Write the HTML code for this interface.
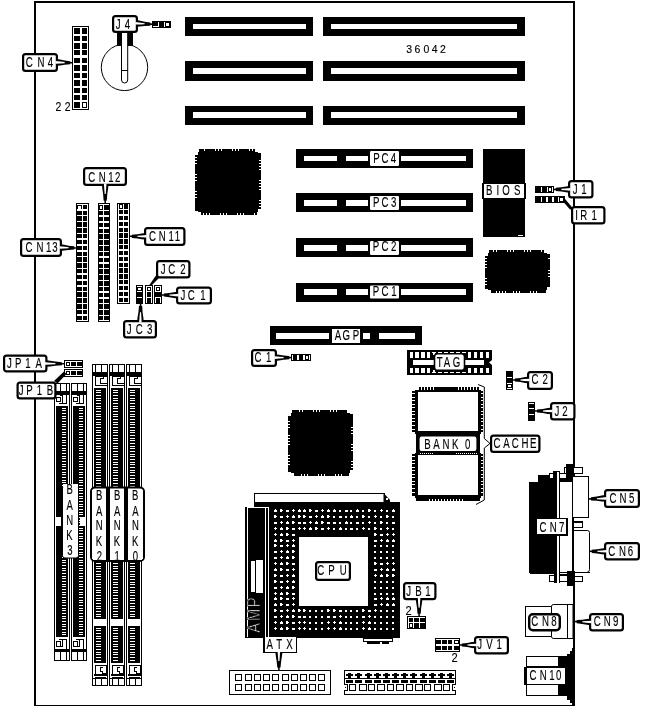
<!DOCTYPE html>
<html lang="en"><head><meta charset="utf-8"><title>36042 motherboard layout</title>
<style>
html,body{margin:0;padding:0;background:#fff;}
body{width:646px;height:707px;overflow:hidden;}
svg{display:block;font-family:"Liberation Sans",sans-serif;filter:grayscale(1);}
</style></head><body>
<svg width="646" height="707" viewBox="0 0 646 707" shape-rendering="crispEdges">
<rect x="0" y="0" width="646" height="707" fill="#fff"/>
<rect x="34" y="1" width="541" height="2" fill="#000"/>
<rect x="34" y="1" width="2" height="705" fill="#000"/>
<rect x="573" y="1" width="2" height="705" fill="#000"/>
<rect x="34" y="705" width="541" height="1" fill="#000"/>
<rect x="185" y="17" width="128" height="19" fill="#000"/>
<rect x="193" y="24" width="113" height="5" fill="#fff"/>
<rect x="323" y="17" width="202" height="19" fill="#000"/>
<rect x="331" y="24" width="186" height="5" fill="#fff"/>
<rect x="185" y="61" width="128" height="20" fill="#000"/>
<rect x="193" y="68" width="113" height="6" fill="#fff"/>
<rect x="323" y="61" width="202" height="20" fill="#000"/>
<rect x="331" y="68" width="186" height="6" fill="#fff"/>
<rect x="185" y="106" width="128" height="19" fill="#000"/>
<rect x="193" y="112" width="113" height="6" fill="#fff"/>
<rect x="323" y="106" width="202" height="19" fill="#000"/>
<rect x="331" y="112" width="186" height="6" fill="#fff"/>
<text transform="translate(406.13,53) scale(0.9,1)" x="0.00 9.37 19.30 28.56 37.52" y="0" font-size="11.6" fill="#000" stroke="#000" stroke-width="0.15" font-weight="normal">36042</text>
<rect x="72" y="26" width="17" height="84" fill="#000"/>
<rect x="73" y="27" width="15" height="82" fill="#fff"/>
<rect x="74" y="28" width="6" height="6" fill="#000"/>
<rect x="82" y="28" width="5" height="6" fill="#000"/>
<rect x="74" y="36" width="6" height="5" fill="#000"/>
<rect x="82" y="36" width="5" height="5" fill="#000"/>
<rect x="74" y="43" width="6" height="6" fill="#000"/>
<rect x="82" y="43" width="5" height="6" fill="#000"/>
<rect x="74" y="50" width="6" height="5" fill="#000"/>
<rect x="82" y="50" width="5" height="5" fill="#000"/>
<rect x="74" y="58" width="6" height="5" fill="#000"/>
<rect x="82" y="58" width="5" height="5" fill="#000"/>
<rect x="74" y="65" width="6" height="6" fill="#000"/>
<rect x="82" y="65" width="5" height="6" fill="#000"/>
<rect x="74" y="73" width="6" height="5" fill="#000"/>
<rect x="82" y="73" width="5" height="5" fill="#000"/>
<rect x="74" y="80" width="6" height="6" fill="#000"/>
<rect x="82" y="80" width="5" height="6" fill="#000"/>
<rect x="74" y="88" width="6" height="5" fill="#000"/>
<rect x="82" y="88" width="5" height="5" fill="#000"/>
<rect x="74" y="95" width="6" height="5" fill="#000"/>
<rect x="82" y="95" width="5" height="5" fill="#000"/>
<rect x="74" y="102" width="6" height="6" fill="#000"/>
<rect x="82" y="102" width="5" height="6" fill="#000"/>
<rect x="83" y="103" width="3" height="4" fill="#fff"/>
<rect x="23.1" y="54.1" width="33.8" height="16.8" rx="2.4" ry="2.4" fill="#fff" stroke="#000" stroke-width="2.2" shape-rendering="geometricPrecision"/>
<polygon points="56.91,65.70 59.98,65.38 64.60,64.70 70.12,64.34 70.29,63.55 72.28,63.55 72.32,62.05 70.33,61.95 70.20,61.14 64.70,60.50 60.14,59.58 57.09,59.10" fill="#000" shape-rendering="geometricPrecision"/>
<polygon points="55.37,63.66 60.80,63.40 64.64,63.15 64.66,62.05 60.85,61.60 55.43,61.06" fill="#fff" shape-rendering="geometricPrecision"/>
<text transform="translate(25.66,66.6) scale(0.67,1)" x="0.00 17.85 33.12" y="0" font-size="14.4" fill="#000" stroke="#000" stroke-width="0.15" font-weight="normal">CN4</text>
<text transform="translate(55.59,110.5) scale(0.85,1)" x="0.00 10.82" y="0" font-size="12.3" fill="#000" stroke="#000" stroke-width="0.15" font-weight="normal">22</text>
<circle cx="124.5" cy="67.4" r="23.2" fill="#fff" stroke="#000" stroke-width="1" shape-rendering="geometricPrecision"/>
<rect x="117" y="31" width="5" height="15" fill="#000"/>
<rect x="127" y="31" width="6" height="15" fill="#000"/>
<path d="M121.5,31 V80 Q121.5,83 124.6,83 Q127.7,83 127.7,80 V31 Z" fill="#fff" stroke="#000" stroke-width="1" shape-rendering="geometricPrecision"/>
<line x1="121.5" y1="70.5" x2="127.7" y2="70.5" stroke="#000" stroke-width="1" />
<rect x="113.1" y="16.1" width="23.8" height="15.8" rx="2.4" ry="2.4" fill="#fff" stroke="#000" stroke-width="2.2" shape-rendering="geometricPrecision"/>
<polygon points="136.83,26.70 139.91,26.46 144.54,25.90 150.07,25.69 150.27,24.89 152.26,24.95 152.34,23.45 150.35,23.30 150.24,22.49 144.76,21.70 140.21,20.66 137.17,20.10" fill="#000" shape-rendering="geometricPrecision"/>
<polygon points="135.33,24.61 140.78,24.50 144.62,24.35 144.68,23.25 140.87,22.70 135.47,22.02" fill="#fff" shape-rendering="geometricPrecision"/>
<text transform="translate(115.87,28.6) scale(0.67,1)" x="0.00 13.40" y="0" font-size="14.4" fill="#000" stroke="#000" stroke-width="0.15" font-weight="normal">J4</text>
<rect x="152" y="21" width="19" height="7" fill="#000"/>
<rect x="158" y="22" width="1" height="5" fill="#fff"/>
<rect x="153" y="26" width="6" height="1" fill="#fff"/>
<rect x="164" y="22" width="1" height="5" fill="#fff"/>
<rect x="166" y="23" width="3" height="3" fill="#fff"/>
<rect x="76" y="203" width="13" height="119" fill="#000"/>
<rect x="77" y="204" width="11" height="117" fill="#fff"/>
<rect x="77" y="205" width="5" height="115" fill="#000"/>
<rect x="83" y="205" width="4" height="115" fill="#000"/>
<rect x="77" y="209" width="11" height="2" fill="#fff"/>
<rect x="77" y="215" width="11" height="1" fill="#fff"/>
<rect x="77" y="221" width="11" height="1" fill="#fff"/>
<rect x="77" y="227" width="11" height="1" fill="#fff"/>
<rect x="77" y="233" width="11" height="1" fill="#fff"/>
<rect x="77" y="238" width="11" height="2" fill="#fff"/>
<rect x="77" y="244" width="11" height="2" fill="#fff"/>
<rect x="77" y="250" width="11" height="2" fill="#fff"/>
<rect x="77" y="256" width="11" height="1" fill="#fff"/>
<rect x="77" y="262" width="11" height="1" fill="#fff"/>
<rect x="77" y="268" width="11" height="1" fill="#fff"/>
<rect x="77" y="273" width="11" height="2" fill="#fff"/>
<rect x="77" y="279" width="11" height="2" fill="#fff"/>
<rect x="77" y="285" width="11" height="2" fill="#fff"/>
<rect x="77" y="291" width="11" height="1" fill="#fff"/>
<rect x="77" y="297" width="11" height="1" fill="#fff"/>
<rect x="77" y="303" width="11" height="1" fill="#fff"/>
<rect x="77" y="309" width="11" height="1" fill="#fff"/>
<rect x="77" y="314" width="11" height="2" fill="#fff"/>
<rect x="78" y="206" width="3" height="3" fill="#fff"/>
<rect x="98" y="203" width="12" height="119" fill="#000"/>
<rect x="99" y="204" width="10" height="117" fill="#fff"/>
<rect x="99" y="205" width="4" height="115" fill="#000"/>
<rect x="104" y="205" width="5" height="115" fill="#000"/>
<rect x="99" y="210" width="10" height="1" fill="#fff"/>
<rect x="99" y="215" width="10" height="2" fill="#fff"/>
<rect x="99" y="221" width="10" height="2" fill="#fff"/>
<rect x="99" y="227" width="10" height="2" fill="#fff"/>
<rect x="99" y="233" width="10" height="1" fill="#fff"/>
<rect x="99" y="239" width="10" height="1" fill="#fff"/>
<rect x="99" y="245" width="10" height="1" fill="#fff"/>
<rect x="99" y="251" width="10" height="1" fill="#fff"/>
<rect x="99" y="256" width="10" height="2" fill="#fff"/>
<rect x="99" y="262" width="10" height="2" fill="#fff"/>
<rect x="99" y="268" width="10" height="1" fill="#fff"/>
<rect x="99" y="274" width="10" height="1" fill="#fff"/>
<rect x="99" y="280" width="10" height="1" fill="#fff"/>
<rect x="99" y="286" width="10" height="1" fill="#fff"/>
<rect x="99" y="291" width="10" height="2" fill="#fff"/>
<rect x="99" y="297" width="10" height="2" fill="#fff"/>
<rect x="99" y="303" width="10" height="1" fill="#fff"/>
<rect x="99" y="309" width="10" height="1" fill="#fff"/>
<rect x="99" y="315" width="10" height="1" fill="#fff"/>
<rect x="100" y="206" width="2" height="3" fill="#fff"/>
<rect x="117" y="203" width="13" height="101" fill="#000"/>
<rect x="118" y="204" width="11" height="99" fill="#fff"/>
<rect x="119" y="204" width="4" height="98" fill="#000"/>
<rect x="124" y="204" width="4" height="98" fill="#000"/>
<rect x="118" y="209" width="11" height="1" fill="#fff"/>
<rect x="118" y="214" width="11" height="2" fill="#fff"/>
<rect x="118" y="220" width="11" height="2" fill="#fff"/>
<rect x="118" y="226" width="11" height="2" fill="#fff"/>
<rect x="118" y="232" width="11" height="1" fill="#fff"/>
<rect x="118" y="238" width="11" height="1" fill="#fff"/>
<rect x="118" y="244" width="11" height="1" fill="#fff"/>
<rect x="118" y="249" width="11" height="2" fill="#fff"/>
<rect x="118" y="255" width="11" height="2" fill="#fff"/>
<rect x="118" y="261" width="11" height="2" fill="#fff"/>
<rect x="118" y="267" width="11" height="1" fill="#fff"/>
<rect x="118" y="273" width="11" height="1" fill="#fff"/>
<rect x="118" y="279" width="11" height="1" fill="#fff"/>
<rect x="118" y="284" width="11" height="2" fill="#fff"/>
<rect x="118" y="290" width="11" height="2" fill="#fff"/>
<rect x="118" y="296" width="11" height="2" fill="#fff"/>
<rect x="120" y="205" width="2" height="3" fill="#fff"/>
<rect x="84.1" y="168.1" width="41.8" height="16.8" rx="2.4" ry="2.4" fill="#fff" stroke="#000" stroke-width="2.2" shape-rendering="geometricPrecision"/>
<polygon points="101.90,185.00 102.30,188.60 103.10,194.00 103.60,200.48 104.40,200.66 104.45,203.00 105.95,203.00 106.00,200.66 106.80,200.48 107.30,194.00 108.10,188.60 108.50,185.00" fill="#000" shape-rendering="geometricPrecision"/>
<polygon points="103.90,183.40 104.30,189.50 104.65,194.00 105.75,194.00 106.10,189.50 106.50,183.40" fill="#fff" shape-rendering="geometricPrecision"/>
<text transform="translate(88.36,182) scale(0.67,1)" x="0.00 15.46 29.60 39.79" y="0" font-size="14.4" fill="#000" stroke="#000" stroke-width="0.15" font-weight="normal">CN12</text>
<rect x="21.1" y="239.1" width="39.8" height="16.8" rx="2.4" ry="2.4" fill="#fff" stroke="#000" stroke-width="2.2" shape-rendering="geometricPrecision"/>
<polygon points="60.91,250.90 63.98,250.58 68.60,249.90 74.12,249.54 74.29,248.75 76.28,248.75 76.32,247.25 74.33,247.15 74.20,246.34 68.70,245.70 64.14,244.78 61.09,244.30" fill="#000" shape-rendering="geometricPrecision"/>
<polygon points="59.37,248.86 64.80,248.60 68.64,248.35 68.66,247.25 64.85,246.80 59.43,246.26" fill="#fff" shape-rendering="geometricPrecision"/>
<text transform="translate(25.46,252) scale(0.67,1)" x="0.00 16.51 30.64 39.84" y="0" font-size="14.4" fill="#000" stroke="#000" stroke-width="0.15" font-weight="normal">CN13</text>
<rect x="145.1" y="228.1" width="39.3" height="16.8" rx="2.4" ry="2.4" fill="#fff" stroke="#000" stroke-width="2.2" shape-rendering="geometricPrecision"/>
<polygon points="145.00,233.00 141.94,233.40 137.35,234.20 131.84,234.70 131.69,235.50 129.70,235.55 129.70,237.05 131.69,237.10 131.84,237.90 137.35,238.40 141.94,239.20 145.00,239.60" fill="#000" shape-rendering="geometricPrecision"/>
<polygon points="146.60,235.00 141.18,235.40 137.35,235.75 137.35,236.85 141.18,237.20 146.60,237.60" fill="#fff" shape-rendering="geometricPrecision"/>
<text transform="translate(149.06,241.2) scale(0.67,1)" x="0.00 14.42 29.00 38.25" y="0" font-size="14.4" fill="#000" stroke="#000" stroke-width="0.15" font-weight="normal">CN11</text>
<rect x="136" y="285" width="7" height="19" fill="#000"/>
<rect x="137" y="286" width="5" height="1" fill="#fff"/>
<rect x="138" y="288" width="3" height="2" fill="#fff"/>
<rect x="137" y="291" width="5" height="1" fill="#fff"/>
<rect x="137" y="297" width="5" height="1" fill="#fff"/>
<rect x="145" y="285" width="8" height="19" fill="#000"/>
<rect x="146" y="286" width="6" height="17" fill="#fff"/>
<rect x="147" y="287" width="4" height="4" fill="#000"/>
<rect x="148" y="288" width="2" height="2" fill="#fff"/>
<rect x="147" y="292" width="4" height="5" fill="#000"/>
<rect x="147" y="298" width="4" height="5" fill="#000"/>
<rect x="154" y="285" width="8" height="19" fill="#000"/>
<rect x="155" y="286" width="6" height="17" fill="#fff"/>
<rect x="156" y="287" width="4" height="4" fill="#000"/>
<rect x="157" y="288" width="2" height="2" fill="#fff"/>
<rect x="155" y="292" width="6" height="5" fill="#000"/>
<rect x="156" y="298" width="4" height="5" fill="#000"/>
<polygon points="149,285.5 151.5,285.5 161,276 157,274" fill="#000" shape-rendering="geometricPrecision"/>
<rect x="157.1" y="261.1" width="32.3" height="16.3" rx="2.4" ry="2.4" fill="#fff" stroke="#000" stroke-width="2.2" shape-rendering="geometricPrecision"/>
<text transform="translate(160.87,274.1) scale(0.67,1)" x="0.00 10.87 29.02" y="0" font-size="14.4" fill="#000" stroke="#000" stroke-width="0.15" font-weight="normal">JC2</text>
<rect x="177.1" y="287.6" width="33.8" height="15.8" rx="2.4" ry="2.4" fill="#fff" stroke="#000" stroke-width="2.2" shape-rendering="geometricPrecision"/>
<polygon points="177.02,291.80 173.98,292.18 169.41,292.95 163.94,293.41 163.78,294.21 161.80,294.25 161.80,295.75 163.77,295.81 163.92,296.61 169.39,297.15 173.94,297.98 176.98,298.40" fill="#000" shape-rendering="geometricPrecision"/>
<polygon points="178.61,293.81 173.21,294.18 169.40,294.50 169.40,295.60 173.19,295.97 178.59,296.41" fill="#fff" shape-rendering="geometricPrecision"/>
<text transform="translate(180.57,299.8) scale(0.67,1)" x="0.00 10.72 29.28" y="0" font-size="14.4" fill="#000" stroke="#000" stroke-width="0.15" font-weight="normal">JC1</text>
<rect x="124.1" y="321.1" width="31.8" height="16.3" rx="2.4" ry="2.4" fill="#fff" stroke="#000" stroke-width="2.2" shape-rendering="geometricPrecision"/>
<polygon points="143.70,321.04 143.34,317.53 142.60,312.27 142.17,305.97 141.37,305.78 141.35,303.51 139.85,303.49 139.77,305.77 138.97,305.93 138.40,312.23 137.54,317.47 137.10,320.96" fill="#000" shape-rendering="geometricPrecision"/>
<polygon points="141.68,322.61 141.35,316.64 141.05,312.26 139.95,312.24 139.55,316.61 139.08,322.59" fill="#fff" shape-rendering="geometricPrecision"/>
<text transform="translate(126.77,333.8) scale(0.67,1)" x="0.00 13.26 30.11" y="0" font-size="14.4" fill="#000" stroke="#000" stroke-width="0.15" font-weight="normal">JC3</text>
<rect x="54" y="383" width="16" height="278" fill="#000"/>
<rect x="55" y="384" width="14" height="276" fill="#fff"/>
<rect x="60" y="383" width="1" height="8" fill="#000"/>
<rect x="66" y="383" width="1" height="8" fill="#000"/>
<rect x="55" y="391" width="14" height="4" fill="#000"/>
<rect x="56" y="397" width="5" height="5" fill="#000"/>
<rect x="57" y="398" width="3" height="3" fill="#fff"/>
<rect x="60" y="395" width="3" height="1" fill="#000"/>
<rect x="62" y="396" width="1" height="8" fill="#000"/>
<rect x="59" y="403" width="7" height="1" fill="#000"/>
<rect x="66" y="395" width="1" height="9" fill="#000"/>
<rect x="56" y="406" width="12" height="231" fill="#000"/>
<rect x="62" y="408" width="4" height="1" fill="#fff"/>
<rect x="62" y="410" width="4" height="1" fill="#fff"/>
<rect x="62" y="413" width="4" height="1" fill="#fff"/>
<rect x="62" y="416" width="4" height="1" fill="#fff"/>
<rect x="62" y="418" width="4" height="1" fill="#fff"/>
<rect x="62" y="421" width="4" height="1" fill="#fff"/>
<rect x="62" y="424" width="4" height="1" fill="#fff"/>
<rect x="62" y="426" width="4" height="1" fill="#fff"/>
<rect x="62" y="429" width="4" height="1" fill="#fff"/>
<rect x="62" y="432" width="4" height="1" fill="#fff"/>
<rect x="62" y="434" width="4" height="1" fill="#fff"/>
<rect x="62" y="437" width="4" height="1" fill="#fff"/>
<rect x="62" y="440" width="4" height="1" fill="#fff"/>
<rect x="62" y="442" width="4" height="1" fill="#fff"/>
<rect x="62" y="445" width="4" height="1" fill="#fff"/>
<rect x="62" y="448" width="4" height="1" fill="#fff"/>
<rect x="62" y="450" width="4" height="1" fill="#fff"/>
<rect x="62" y="453" width="4" height="1" fill="#fff"/>
<rect x="62" y="456" width="4" height="1" fill="#fff"/>
<rect x="62" y="458" width="4" height="1" fill="#fff"/>
<rect x="62" y="461" width="4" height="1" fill="#fff"/>
<rect x="62" y="464" width="4" height="1" fill="#fff"/>
<rect x="62" y="466" width="4" height="1" fill="#fff"/>
<rect x="62" y="469" width="4" height="1" fill="#fff"/>
<rect x="62" y="472" width="4" height="1" fill="#fff"/>
<rect x="62" y="474" width="4" height="1" fill="#fff"/>
<rect x="62" y="477" width="4" height="1" fill="#fff"/>
<rect x="62" y="480" width="4" height="1" fill="#fff"/>
<rect x="62" y="482" width="4" height="1" fill="#fff"/>
<rect x="62" y="485" width="4" height="1" fill="#fff"/>
<rect x="62" y="488" width="4" height="1" fill="#fff"/>
<rect x="62" y="490" width="4" height="1" fill="#fff"/>
<rect x="62" y="493" width="4" height="1" fill="#fff"/>
<rect x="62" y="496" width="4" height="1" fill="#fff"/>
<rect x="62" y="498" width="4" height="1" fill="#fff"/>
<rect x="62" y="501" width="4" height="1" fill="#fff"/>
<rect x="62" y="504" width="4" height="1" fill="#fff"/>
<rect x="62" y="506" width="4" height="1" fill="#fff"/>
<rect x="62" y="509" width="4" height="1" fill="#fff"/>
<rect x="62" y="512" width="4" height="1" fill="#fff"/>
<rect x="62" y="514" width="4" height="1" fill="#fff"/>
<rect x="62" y="517" width="4" height="1" fill="#fff"/>
<rect x="62" y="520" width="4" height="1" fill="#fff"/>
<rect x="62" y="522" width="4" height="1" fill="#fff"/>
<rect x="62" y="525" width="4" height="1" fill="#fff"/>
<rect x="62" y="528" width="4" height="1" fill="#fff"/>
<rect x="62" y="530" width="4" height="1" fill="#fff"/>
<rect x="62" y="533" width="4" height="1" fill="#fff"/>
<rect x="62" y="536" width="4" height="1" fill="#fff"/>
<rect x="62" y="538" width="4" height="1" fill="#fff"/>
<rect x="62" y="541" width="4" height="1" fill="#fff"/>
<rect x="62" y="544" width="4" height="1" fill="#fff"/>
<rect x="62" y="546" width="4" height="1" fill="#fff"/>
<rect x="62" y="549" width="4" height="1" fill="#fff"/>
<rect x="62" y="552" width="4" height="1" fill="#fff"/>
<rect x="62" y="554" width="4" height="1" fill="#fff"/>
<rect x="62" y="557" width="4" height="1" fill="#fff"/>
<rect x="62" y="560" width="4" height="1" fill="#fff"/>
<rect x="62" y="562" width="4" height="1" fill="#fff"/>
<rect x="62" y="565" width="4" height="1" fill="#fff"/>
<rect x="62" y="568" width="4" height="1" fill="#fff"/>
<rect x="62" y="570" width="4" height="1" fill="#fff"/>
<rect x="62" y="573" width="4" height="1" fill="#fff"/>
<rect x="62" y="576" width="4" height="1" fill="#fff"/>
<rect x="62" y="578" width="4" height="1" fill="#fff"/>
<rect x="62" y="581" width="4" height="1" fill="#fff"/>
<rect x="62" y="584" width="4" height="1" fill="#fff"/>
<rect x="62" y="586" width="4" height="1" fill="#fff"/>
<rect x="62" y="589" width="4" height="1" fill="#fff"/>
<rect x="62" y="592" width="4" height="1" fill="#fff"/>
<rect x="62" y="594" width="4" height="1" fill="#fff"/>
<rect x="62" y="597" width="4" height="1" fill="#fff"/>
<rect x="62" y="600" width="4" height="1" fill="#fff"/>
<rect x="62" y="602" width="4" height="1" fill="#fff"/>
<rect x="62" y="605" width="4" height="1" fill="#fff"/>
<rect x="62" y="608" width="4" height="1" fill="#fff"/>
<rect x="62" y="610" width="4" height="1" fill="#fff"/>
<rect x="62" y="613" width="4" height="1" fill="#fff"/>
<rect x="62" y="616" width="4" height="1" fill="#fff"/>
<rect x="62" y="618" width="4" height="1" fill="#fff"/>
<rect x="62" y="621" width="4" height="1" fill="#fff"/>
<rect x="62" y="624" width="4" height="1" fill="#fff"/>
<rect x="62" y="626" width="4" height="1" fill="#fff"/>
<rect x="62" y="629" width="4" height="1" fill="#fff"/>
<rect x="62" y="632" width="4" height="1" fill="#fff"/>
<rect x="62" y="634" width="4" height="1" fill="#fff"/>
<rect x="56" y="517" width="5" height="9" fill="#fff"/>
<rect x="56" y="641" width="5" height="6" fill="#000"/>
<rect x="57" y="642" width="3" height="4" fill="#fff"/>
<rect x="59" y="639" width="8" height="1" fill="#000"/>
<rect x="66" y="639" width="1" height="10" fill="#000"/>
<rect x="62" y="640" width="1" height="6" fill="#000"/>
<rect x="60" y="646" width="3" height="1" fill="#000"/>
<rect x="55" y="649" width="14" height="3" fill="#000"/>
<rect x="60" y="652" width="1" height="9" fill="#000"/>
<rect x="66" y="652" width="1" height="9" fill="#000"/>
<rect x="71" y="383" width="16" height="278" fill="#000"/>
<rect x="72" y="384" width="14" height="276" fill="#fff"/>
<rect x="77" y="383" width="1" height="8" fill="#000"/>
<rect x="83" y="383" width="1" height="8" fill="#000"/>
<rect x="72" y="391" width="14" height="4" fill="#000"/>
<rect x="73" y="397" width="5" height="5" fill="#000"/>
<rect x="74" y="398" width="3" height="3" fill="#fff"/>
<rect x="77" y="395" width="3" height="1" fill="#000"/>
<rect x="79" y="396" width="1" height="8" fill="#000"/>
<rect x="76" y="403" width="7" height="1" fill="#000"/>
<rect x="83" y="395" width="1" height="9" fill="#000"/>
<rect x="73" y="406" width="12" height="231" fill="#000"/>
<rect x="79" y="408" width="4" height="1" fill="#fff"/>
<rect x="79" y="410" width="4" height="1" fill="#fff"/>
<rect x="79" y="413" width="4" height="1" fill="#fff"/>
<rect x="79" y="416" width="4" height="1" fill="#fff"/>
<rect x="79" y="418" width="4" height="1" fill="#fff"/>
<rect x="79" y="421" width="4" height="1" fill="#fff"/>
<rect x="79" y="424" width="4" height="1" fill="#fff"/>
<rect x="79" y="426" width="4" height="1" fill="#fff"/>
<rect x="79" y="429" width="4" height="1" fill="#fff"/>
<rect x="79" y="432" width="4" height="1" fill="#fff"/>
<rect x="79" y="434" width="4" height="1" fill="#fff"/>
<rect x="79" y="437" width="4" height="1" fill="#fff"/>
<rect x="79" y="440" width="4" height="1" fill="#fff"/>
<rect x="79" y="442" width="4" height="1" fill="#fff"/>
<rect x="79" y="445" width="4" height="1" fill="#fff"/>
<rect x="79" y="448" width="4" height="1" fill="#fff"/>
<rect x="79" y="450" width="4" height="1" fill="#fff"/>
<rect x="79" y="453" width="4" height="1" fill="#fff"/>
<rect x="79" y="456" width="4" height="1" fill="#fff"/>
<rect x="79" y="458" width="4" height="1" fill="#fff"/>
<rect x="79" y="461" width="4" height="1" fill="#fff"/>
<rect x="79" y="464" width="4" height="1" fill="#fff"/>
<rect x="79" y="466" width="4" height="1" fill="#fff"/>
<rect x="79" y="469" width="4" height="1" fill="#fff"/>
<rect x="79" y="472" width="4" height="1" fill="#fff"/>
<rect x="79" y="474" width="4" height="1" fill="#fff"/>
<rect x="79" y="477" width="4" height="1" fill="#fff"/>
<rect x="79" y="480" width="4" height="1" fill="#fff"/>
<rect x="79" y="482" width="4" height="1" fill="#fff"/>
<rect x="79" y="485" width="4" height="1" fill="#fff"/>
<rect x="79" y="488" width="4" height="1" fill="#fff"/>
<rect x="79" y="490" width="4" height="1" fill="#fff"/>
<rect x="79" y="493" width="4" height="1" fill="#fff"/>
<rect x="79" y="496" width="4" height="1" fill="#fff"/>
<rect x="79" y="498" width="4" height="1" fill="#fff"/>
<rect x="79" y="501" width="4" height="1" fill="#fff"/>
<rect x="79" y="504" width="4" height="1" fill="#fff"/>
<rect x="79" y="506" width="4" height="1" fill="#fff"/>
<rect x="79" y="509" width="4" height="1" fill="#fff"/>
<rect x="79" y="512" width="4" height="1" fill="#fff"/>
<rect x="79" y="514" width="4" height="1" fill="#fff"/>
<rect x="79" y="517" width="4" height="1" fill="#fff"/>
<rect x="79" y="520" width="4" height="1" fill="#fff"/>
<rect x="79" y="522" width="4" height="1" fill="#fff"/>
<rect x="79" y="525" width="4" height="1" fill="#fff"/>
<rect x="79" y="528" width="4" height="1" fill="#fff"/>
<rect x="79" y="530" width="4" height="1" fill="#fff"/>
<rect x="79" y="533" width="4" height="1" fill="#fff"/>
<rect x="79" y="536" width="4" height="1" fill="#fff"/>
<rect x="79" y="538" width="4" height="1" fill="#fff"/>
<rect x="79" y="541" width="4" height="1" fill="#fff"/>
<rect x="79" y="544" width="4" height="1" fill="#fff"/>
<rect x="79" y="546" width="4" height="1" fill="#fff"/>
<rect x="79" y="549" width="4" height="1" fill="#fff"/>
<rect x="79" y="552" width="4" height="1" fill="#fff"/>
<rect x="79" y="554" width="4" height="1" fill="#fff"/>
<rect x="79" y="557" width="4" height="1" fill="#fff"/>
<rect x="79" y="560" width="4" height="1" fill="#fff"/>
<rect x="79" y="562" width="4" height="1" fill="#fff"/>
<rect x="79" y="565" width="4" height="1" fill="#fff"/>
<rect x="79" y="568" width="4" height="1" fill="#fff"/>
<rect x="79" y="570" width="4" height="1" fill="#fff"/>
<rect x="79" y="573" width="4" height="1" fill="#fff"/>
<rect x="79" y="576" width="4" height="1" fill="#fff"/>
<rect x="79" y="578" width="4" height="1" fill="#fff"/>
<rect x="79" y="581" width="4" height="1" fill="#fff"/>
<rect x="79" y="584" width="4" height="1" fill="#fff"/>
<rect x="79" y="586" width="4" height="1" fill="#fff"/>
<rect x="79" y="589" width="4" height="1" fill="#fff"/>
<rect x="79" y="592" width="4" height="1" fill="#fff"/>
<rect x="79" y="594" width="4" height="1" fill="#fff"/>
<rect x="79" y="597" width="4" height="1" fill="#fff"/>
<rect x="79" y="600" width="4" height="1" fill="#fff"/>
<rect x="79" y="602" width="4" height="1" fill="#fff"/>
<rect x="79" y="605" width="4" height="1" fill="#fff"/>
<rect x="79" y="608" width="4" height="1" fill="#fff"/>
<rect x="79" y="610" width="4" height="1" fill="#fff"/>
<rect x="79" y="613" width="4" height="1" fill="#fff"/>
<rect x="79" y="616" width="4" height="1" fill="#fff"/>
<rect x="79" y="618" width="4" height="1" fill="#fff"/>
<rect x="79" y="621" width="4" height="1" fill="#fff"/>
<rect x="79" y="624" width="4" height="1" fill="#fff"/>
<rect x="79" y="626" width="4" height="1" fill="#fff"/>
<rect x="79" y="629" width="4" height="1" fill="#fff"/>
<rect x="79" y="632" width="4" height="1" fill="#fff"/>
<rect x="79" y="634" width="4" height="1" fill="#fff"/>
<rect x="80" y="517" width="6" height="9" fill="#fff"/>
<rect x="73" y="641" width="5" height="6" fill="#000"/>
<rect x="74" y="642" width="3" height="4" fill="#fff"/>
<rect x="76" y="639" width="8" height="1" fill="#000"/>
<rect x="83" y="639" width="1" height="10" fill="#000"/>
<rect x="79" y="640" width="1" height="6" fill="#000"/>
<rect x="77" y="646" width="3" height="1" fill="#000"/>
<rect x="72" y="649" width="14" height="3" fill="#000"/>
<rect x="77" y="652" width="1" height="9" fill="#000"/>
<rect x="83" y="652" width="1" height="9" fill="#000"/>
<rect x="92" y="364" width="16" height="322" fill="#000"/>
<rect x="93" y="365" width="14" height="320" fill="#fff"/>
<rect x="95" y="364" width="1" height="8" fill="#000"/>
<rect x="101" y="364" width="1" height="8" fill="#000"/>
<rect x="93" y="372" width="14" height="4" fill="#000"/>
<rect x="95" y="376" width="13" height="10" fill="#000"/>
<rect x="96" y="377" width="11" height="8" fill="#fff"/>
<rect x="100" y="378" width="4" height="1" fill="#000"/>
<rect x="100" y="378" width="1" height="6" fill="#000"/>
<rect x="103" y="376" width="1" height="3" fill="#000"/>
<rect x="100" y="383" width="8" height="1" fill="#000"/>
<rect x="94" y="388" width="12" height="231" fill="#000"/>
<rect x="96" y="390" width="4.5" height="1" fill="#fff"/>
<rect x="96" y="392" width="4.5" height="1" fill="#fff"/>
<rect x="96" y="395" width="4.5" height="1" fill="#fff"/>
<rect x="96" y="398" width="4.5" height="1" fill="#fff"/>
<rect x="96" y="400" width="4.5" height="1" fill="#fff"/>
<rect x="96" y="403" width="4.5" height="1" fill="#fff"/>
<rect x="96" y="406" width="4.5" height="1" fill="#fff"/>
<rect x="96" y="408" width="4.5" height="1" fill="#fff"/>
<rect x="96" y="411" width="4.5" height="1" fill="#fff"/>
<rect x="96" y="414" width="4.5" height="1" fill="#fff"/>
<rect x="96" y="416" width="4.5" height="1" fill="#fff"/>
<rect x="96" y="419" width="4.5" height="1" fill="#fff"/>
<rect x="96" y="422" width="4.5" height="1" fill="#fff"/>
<rect x="96" y="424" width="4.5" height="1" fill="#fff"/>
<rect x="96" y="427" width="4.5" height="1" fill="#fff"/>
<rect x="96" y="430" width="4.5" height="1" fill="#fff"/>
<rect x="96" y="432" width="4.5" height="1" fill="#fff"/>
<rect x="96" y="435" width="4.5" height="1" fill="#fff"/>
<rect x="96" y="438" width="4.5" height="1" fill="#fff"/>
<rect x="96" y="440" width="4.5" height="1" fill="#fff"/>
<rect x="96" y="443" width="4.5" height="1" fill="#fff"/>
<rect x="96" y="446" width="4.5" height="1" fill="#fff"/>
<rect x="96" y="448" width="4.5" height="1" fill="#fff"/>
<rect x="96" y="451" width="4.5" height="1" fill="#fff"/>
<rect x="96" y="454" width="4.5" height="1" fill="#fff"/>
<rect x="96" y="456" width="4.5" height="1" fill="#fff"/>
<rect x="96" y="459" width="4.5" height="1" fill="#fff"/>
<rect x="96" y="462" width="4.5" height="1" fill="#fff"/>
<rect x="96" y="464" width="4.5" height="1" fill="#fff"/>
<rect x="96" y="467" width="4.5" height="1" fill="#fff"/>
<rect x="96" y="470" width="4.5" height="1" fill="#fff"/>
<rect x="96" y="472" width="4.5" height="1" fill="#fff"/>
<rect x="96" y="475" width="4.5" height="1" fill="#fff"/>
<rect x="96" y="478" width="4.5" height="1" fill="#fff"/>
<rect x="96" y="480" width="4.5" height="1" fill="#fff"/>
<rect x="96" y="483" width="4.5" height="1" fill="#fff"/>
<rect x="96" y="486" width="4.5" height="1" fill="#fff"/>
<rect x="96" y="488" width="4.5" height="1" fill="#fff"/>
<rect x="96" y="491" width="4.5" height="1" fill="#fff"/>
<rect x="96" y="494" width="4.5" height="1" fill="#fff"/>
<rect x="96" y="496" width="4.5" height="1" fill="#fff"/>
<rect x="96" y="499" width="4.5" height="1" fill="#fff"/>
<rect x="96" y="502" width="4.5" height="1" fill="#fff"/>
<rect x="96" y="504" width="4.5" height="1" fill="#fff"/>
<rect x="96" y="507" width="4.5" height="1" fill="#fff"/>
<rect x="96" y="510" width="4.5" height="1" fill="#fff"/>
<rect x="96" y="512" width="4.5" height="1" fill="#fff"/>
<rect x="96" y="515" width="4.5" height="1" fill="#fff"/>
<rect x="96" y="518" width="4.5" height="1" fill="#fff"/>
<rect x="96" y="520" width="4.5" height="1" fill="#fff"/>
<rect x="96" y="523" width="4.5" height="1" fill="#fff"/>
<rect x="96" y="526" width="4.5" height="1" fill="#fff"/>
<rect x="96" y="528" width="4.5" height="1" fill="#fff"/>
<rect x="96" y="531" width="4.5" height="1" fill="#fff"/>
<rect x="96" y="534" width="4.5" height="1" fill="#fff"/>
<rect x="96" y="536" width="4.5" height="1" fill="#fff"/>
<rect x="96" y="539" width="4.5" height="1" fill="#fff"/>
<rect x="96" y="542" width="4.5" height="1" fill="#fff"/>
<rect x="96" y="544" width="4.5" height="1" fill="#fff"/>
<rect x="96" y="547" width="4.5" height="1" fill="#fff"/>
<rect x="96" y="550" width="4.5" height="1" fill="#fff"/>
<rect x="96" y="552" width="4.5" height="1" fill="#fff"/>
<rect x="96" y="555" width="4.5" height="1" fill="#fff"/>
<rect x="96" y="558" width="4.5" height="1" fill="#fff"/>
<rect x="96" y="560" width="4.5" height="1" fill="#fff"/>
<rect x="96" y="563" width="4.5" height="1" fill="#fff"/>
<rect x="96" y="566" width="4.5" height="1" fill="#fff"/>
<rect x="96" y="568" width="4.5" height="1" fill="#fff"/>
<rect x="96" y="571" width="4.5" height="1" fill="#fff"/>
<rect x="96" y="574" width="4.5" height="1" fill="#fff"/>
<rect x="96" y="576" width="4.5" height="1" fill="#fff"/>
<rect x="96" y="579" width="4.5" height="1" fill="#fff"/>
<rect x="96" y="582" width="4.5" height="1" fill="#fff"/>
<rect x="96" y="584" width="4.5" height="1" fill="#fff"/>
<rect x="96" y="587" width="4.5" height="1" fill="#fff"/>
<rect x="96" y="590" width="4.5" height="1" fill="#fff"/>
<rect x="96" y="592" width="4.5" height="1" fill="#fff"/>
<rect x="96" y="595" width="4.5" height="1" fill="#fff"/>
<rect x="96" y="598" width="4.5" height="1" fill="#fff"/>
<rect x="96" y="600" width="4.5" height="1" fill="#fff"/>
<rect x="96" y="603" width="4.5" height="1" fill="#fff"/>
<rect x="96" y="606" width="4.5" height="1" fill="#fff"/>
<rect x="96" y="608" width="4.5" height="1" fill="#fff"/>
<rect x="96" y="611" width="4.5" height="1" fill="#fff"/>
<rect x="96" y="614" width="4.5" height="1" fill="#fff"/>
<rect x="96" y="616" width="4.5" height="1" fill="#fff"/>
<rect x="94" y="626" width="12" height="37" fill="#000"/>
<rect x="96" y="628" width="4.5" height="1" fill="#fff"/>
<rect x="96" y="630" width="4.5" height="1" fill="#fff"/>
<rect x="96" y="633" width="4.5" height="1" fill="#fff"/>
<rect x="96" y="636" width="4.5" height="1" fill="#fff"/>
<rect x="96" y="638" width="4.5" height="1" fill="#fff"/>
<rect x="96" y="641" width="4.5" height="1" fill="#fff"/>
<rect x="96" y="644" width="4.5" height="1" fill="#fff"/>
<rect x="96" y="646" width="4.5" height="1" fill="#fff"/>
<rect x="96" y="649" width="4.5" height="1" fill="#fff"/>
<rect x="96" y="652" width="4.5" height="1" fill="#fff"/>
<rect x="96" y="654" width="4.5" height="1" fill="#fff"/>
<rect x="96" y="657" width="4.5" height="1" fill="#fff"/>
<rect x="96" y="660" width="4.5" height="1" fill="#fff"/>
<rect x="95" y="665" width="12" height="11" fill="#000"/>
<rect x="96" y="666" width="10" height="9" fill="#fff"/>
<rect x="100" y="667" width="3" height="1" fill="#000"/>
<rect x="100" y="667" width="1" height="5" fill="#000"/>
<rect x="100" y="671" width="3" height="1" fill="#000"/>
<rect x="102" y="671" width="1" height="3" fill="#000"/>
<rect x="102" y="673" width="5" height="1" fill="#000"/>
<rect x="94" y="674" width="13" height="2" fill="#000"/>
<rect x="95" y="677" width="11" height="1" fill="#000"/>
<rect x="93" y="678" width="14" height="1" fill="#000"/>
<rect x="95" y="678" width="1" height="8" fill="#000"/>
<rect x="101" y="678" width="1" height="8" fill="#000"/>
<rect x="109" y="364" width="16" height="322" fill="#000"/>
<rect x="110" y="365" width="14" height="320" fill="#fff"/>
<rect x="112" y="364" width="1" height="8" fill="#000"/>
<rect x="118" y="364" width="1" height="8" fill="#000"/>
<rect x="110" y="372" width="14" height="4" fill="#000"/>
<rect x="112" y="376" width="13" height="10" fill="#000"/>
<rect x="113" y="377" width="11" height="8" fill="#fff"/>
<rect x="117" y="378" width="4" height="1" fill="#000"/>
<rect x="117" y="378" width="1" height="6" fill="#000"/>
<rect x="120" y="376" width="1" height="3" fill="#000"/>
<rect x="117" y="383" width="8" height="1" fill="#000"/>
<rect x="111" y="388" width="12" height="231" fill="#000"/>
<rect x="113" y="390" width="4.5" height="1" fill="#fff"/>
<rect x="113" y="392" width="4.5" height="1" fill="#fff"/>
<rect x="113" y="395" width="4.5" height="1" fill="#fff"/>
<rect x="113" y="398" width="4.5" height="1" fill="#fff"/>
<rect x="113" y="400" width="4.5" height="1" fill="#fff"/>
<rect x="113" y="403" width="4.5" height="1" fill="#fff"/>
<rect x="113" y="406" width="4.5" height="1" fill="#fff"/>
<rect x="113" y="408" width="4.5" height="1" fill="#fff"/>
<rect x="113" y="411" width="4.5" height="1" fill="#fff"/>
<rect x="113" y="414" width="4.5" height="1" fill="#fff"/>
<rect x="113" y="416" width="4.5" height="1" fill="#fff"/>
<rect x="113" y="419" width="4.5" height="1" fill="#fff"/>
<rect x="113" y="422" width="4.5" height="1" fill="#fff"/>
<rect x="113" y="424" width="4.5" height="1" fill="#fff"/>
<rect x="113" y="427" width="4.5" height="1" fill="#fff"/>
<rect x="113" y="430" width="4.5" height="1" fill="#fff"/>
<rect x="113" y="432" width="4.5" height="1" fill="#fff"/>
<rect x="113" y="435" width="4.5" height="1" fill="#fff"/>
<rect x="113" y="438" width="4.5" height="1" fill="#fff"/>
<rect x="113" y="440" width="4.5" height="1" fill="#fff"/>
<rect x="113" y="443" width="4.5" height="1" fill="#fff"/>
<rect x="113" y="446" width="4.5" height="1" fill="#fff"/>
<rect x="113" y="448" width="4.5" height="1" fill="#fff"/>
<rect x="113" y="451" width="4.5" height="1" fill="#fff"/>
<rect x="113" y="454" width="4.5" height="1" fill="#fff"/>
<rect x="113" y="456" width="4.5" height="1" fill="#fff"/>
<rect x="113" y="459" width="4.5" height="1" fill="#fff"/>
<rect x="113" y="462" width="4.5" height="1" fill="#fff"/>
<rect x="113" y="464" width="4.5" height="1" fill="#fff"/>
<rect x="113" y="467" width="4.5" height="1" fill="#fff"/>
<rect x="113" y="470" width="4.5" height="1" fill="#fff"/>
<rect x="113" y="472" width="4.5" height="1" fill="#fff"/>
<rect x="113" y="475" width="4.5" height="1" fill="#fff"/>
<rect x="113" y="478" width="4.5" height="1" fill="#fff"/>
<rect x="113" y="480" width="4.5" height="1" fill="#fff"/>
<rect x="113" y="483" width="4.5" height="1" fill="#fff"/>
<rect x="113" y="486" width="4.5" height="1" fill="#fff"/>
<rect x="113" y="488" width="4.5" height="1" fill="#fff"/>
<rect x="113" y="491" width="4.5" height="1" fill="#fff"/>
<rect x="113" y="494" width="4.5" height="1" fill="#fff"/>
<rect x="113" y="496" width="4.5" height="1" fill="#fff"/>
<rect x="113" y="499" width="4.5" height="1" fill="#fff"/>
<rect x="113" y="502" width="4.5" height="1" fill="#fff"/>
<rect x="113" y="504" width="4.5" height="1" fill="#fff"/>
<rect x="113" y="507" width="4.5" height="1" fill="#fff"/>
<rect x="113" y="510" width="4.5" height="1" fill="#fff"/>
<rect x="113" y="512" width="4.5" height="1" fill="#fff"/>
<rect x="113" y="515" width="4.5" height="1" fill="#fff"/>
<rect x="113" y="518" width="4.5" height="1" fill="#fff"/>
<rect x="113" y="520" width="4.5" height="1" fill="#fff"/>
<rect x="113" y="523" width="4.5" height="1" fill="#fff"/>
<rect x="113" y="526" width="4.5" height="1" fill="#fff"/>
<rect x="113" y="528" width="4.5" height="1" fill="#fff"/>
<rect x="113" y="531" width="4.5" height="1" fill="#fff"/>
<rect x="113" y="534" width="4.5" height="1" fill="#fff"/>
<rect x="113" y="536" width="4.5" height="1" fill="#fff"/>
<rect x="113" y="539" width="4.5" height="1" fill="#fff"/>
<rect x="113" y="542" width="4.5" height="1" fill="#fff"/>
<rect x="113" y="544" width="4.5" height="1" fill="#fff"/>
<rect x="113" y="547" width="4.5" height="1" fill="#fff"/>
<rect x="113" y="550" width="4.5" height="1" fill="#fff"/>
<rect x="113" y="552" width="4.5" height="1" fill="#fff"/>
<rect x="113" y="555" width="4.5" height="1" fill="#fff"/>
<rect x="113" y="558" width="4.5" height="1" fill="#fff"/>
<rect x="113" y="560" width="4.5" height="1" fill="#fff"/>
<rect x="113" y="563" width="4.5" height="1" fill="#fff"/>
<rect x="113" y="566" width="4.5" height="1" fill="#fff"/>
<rect x="113" y="568" width="4.5" height="1" fill="#fff"/>
<rect x="113" y="571" width="4.5" height="1" fill="#fff"/>
<rect x="113" y="574" width="4.5" height="1" fill="#fff"/>
<rect x="113" y="576" width="4.5" height="1" fill="#fff"/>
<rect x="113" y="579" width="4.5" height="1" fill="#fff"/>
<rect x="113" y="582" width="4.5" height="1" fill="#fff"/>
<rect x="113" y="584" width="4.5" height="1" fill="#fff"/>
<rect x="113" y="587" width="4.5" height="1" fill="#fff"/>
<rect x="113" y="590" width="4.5" height="1" fill="#fff"/>
<rect x="113" y="592" width="4.5" height="1" fill="#fff"/>
<rect x="113" y="595" width="4.5" height="1" fill="#fff"/>
<rect x="113" y="598" width="4.5" height="1" fill="#fff"/>
<rect x="113" y="600" width="4.5" height="1" fill="#fff"/>
<rect x="113" y="603" width="4.5" height="1" fill="#fff"/>
<rect x="113" y="606" width="4.5" height="1" fill="#fff"/>
<rect x="113" y="608" width="4.5" height="1" fill="#fff"/>
<rect x="113" y="611" width="4.5" height="1" fill="#fff"/>
<rect x="113" y="614" width="4.5" height="1" fill="#fff"/>
<rect x="113" y="616" width="4.5" height="1" fill="#fff"/>
<rect x="111" y="626" width="12" height="37" fill="#000"/>
<rect x="113" y="628" width="4.5" height="1" fill="#fff"/>
<rect x="113" y="630" width="4.5" height="1" fill="#fff"/>
<rect x="113" y="633" width="4.5" height="1" fill="#fff"/>
<rect x="113" y="636" width="4.5" height="1" fill="#fff"/>
<rect x="113" y="638" width="4.5" height="1" fill="#fff"/>
<rect x="113" y="641" width="4.5" height="1" fill="#fff"/>
<rect x="113" y="644" width="4.5" height="1" fill="#fff"/>
<rect x="113" y="646" width="4.5" height="1" fill="#fff"/>
<rect x="113" y="649" width="4.5" height="1" fill="#fff"/>
<rect x="113" y="652" width="4.5" height="1" fill="#fff"/>
<rect x="113" y="654" width="4.5" height="1" fill="#fff"/>
<rect x="113" y="657" width="4.5" height="1" fill="#fff"/>
<rect x="113" y="660" width="4.5" height="1" fill="#fff"/>
<rect x="112" y="665" width="12" height="11" fill="#000"/>
<rect x="113" y="666" width="10" height="9" fill="#fff"/>
<rect x="117" y="667" width="3" height="1" fill="#000"/>
<rect x="117" y="667" width="1" height="5" fill="#000"/>
<rect x="117" y="671" width="3" height="1" fill="#000"/>
<rect x="119" y="671" width="1" height="3" fill="#000"/>
<rect x="119" y="673" width="5" height="1" fill="#000"/>
<rect x="111" y="674" width="13" height="2" fill="#000"/>
<rect x="112" y="677" width="11" height="1" fill="#000"/>
<rect x="110" y="678" width="14" height="1" fill="#000"/>
<rect x="112" y="678" width="1" height="8" fill="#000"/>
<rect x="118" y="678" width="1" height="8" fill="#000"/>
<rect x="126" y="364" width="16" height="322" fill="#000"/>
<rect x="127" y="365" width="14" height="320" fill="#fff"/>
<rect x="129" y="364" width="1" height="8" fill="#000"/>
<rect x="135" y="364" width="1" height="8" fill="#000"/>
<rect x="127" y="372" width="14" height="4" fill="#000"/>
<rect x="129" y="376" width="13" height="10" fill="#000"/>
<rect x="130" y="377" width="11" height="8" fill="#fff"/>
<rect x="134" y="378" width="4" height="1" fill="#000"/>
<rect x="134" y="378" width="1" height="6" fill="#000"/>
<rect x="137" y="376" width="1" height="3" fill="#000"/>
<rect x="134" y="383" width="8" height="1" fill="#000"/>
<rect x="128" y="388" width="12" height="231" fill="#000"/>
<rect x="130" y="390" width="4.5" height="1" fill="#fff"/>
<rect x="130" y="392" width="4.5" height="1" fill="#fff"/>
<rect x="130" y="395" width="4.5" height="1" fill="#fff"/>
<rect x="130" y="398" width="4.5" height="1" fill="#fff"/>
<rect x="130" y="400" width="4.5" height="1" fill="#fff"/>
<rect x="130" y="403" width="4.5" height="1" fill="#fff"/>
<rect x="130" y="406" width="4.5" height="1" fill="#fff"/>
<rect x="130" y="408" width="4.5" height="1" fill="#fff"/>
<rect x="130" y="411" width="4.5" height="1" fill="#fff"/>
<rect x="130" y="414" width="4.5" height="1" fill="#fff"/>
<rect x="130" y="416" width="4.5" height="1" fill="#fff"/>
<rect x="130" y="419" width="4.5" height="1" fill="#fff"/>
<rect x="130" y="422" width="4.5" height="1" fill="#fff"/>
<rect x="130" y="424" width="4.5" height="1" fill="#fff"/>
<rect x="130" y="427" width="4.5" height="1" fill="#fff"/>
<rect x="130" y="430" width="4.5" height="1" fill="#fff"/>
<rect x="130" y="432" width="4.5" height="1" fill="#fff"/>
<rect x="130" y="435" width="4.5" height="1" fill="#fff"/>
<rect x="130" y="438" width="4.5" height="1" fill="#fff"/>
<rect x="130" y="440" width="4.5" height="1" fill="#fff"/>
<rect x="130" y="443" width="4.5" height="1" fill="#fff"/>
<rect x="130" y="446" width="4.5" height="1" fill="#fff"/>
<rect x="130" y="448" width="4.5" height="1" fill="#fff"/>
<rect x="130" y="451" width="4.5" height="1" fill="#fff"/>
<rect x="130" y="454" width="4.5" height="1" fill="#fff"/>
<rect x="130" y="456" width="4.5" height="1" fill="#fff"/>
<rect x="130" y="459" width="4.5" height="1" fill="#fff"/>
<rect x="130" y="462" width="4.5" height="1" fill="#fff"/>
<rect x="130" y="464" width="4.5" height="1" fill="#fff"/>
<rect x="130" y="467" width="4.5" height="1" fill="#fff"/>
<rect x="130" y="470" width="4.5" height="1" fill="#fff"/>
<rect x="130" y="472" width="4.5" height="1" fill="#fff"/>
<rect x="130" y="475" width="4.5" height="1" fill="#fff"/>
<rect x="130" y="478" width="4.5" height="1" fill="#fff"/>
<rect x="130" y="480" width="4.5" height="1" fill="#fff"/>
<rect x="130" y="483" width="4.5" height="1" fill="#fff"/>
<rect x="130" y="486" width="4.5" height="1" fill="#fff"/>
<rect x="130" y="488" width="4.5" height="1" fill="#fff"/>
<rect x="130" y="491" width="4.5" height="1" fill="#fff"/>
<rect x="130" y="494" width="4.5" height="1" fill="#fff"/>
<rect x="130" y="496" width="4.5" height="1" fill="#fff"/>
<rect x="130" y="499" width="4.5" height="1" fill="#fff"/>
<rect x="130" y="502" width="4.5" height="1" fill="#fff"/>
<rect x="130" y="504" width="4.5" height="1" fill="#fff"/>
<rect x="130" y="507" width="4.5" height="1" fill="#fff"/>
<rect x="130" y="510" width="4.5" height="1" fill="#fff"/>
<rect x="130" y="512" width="4.5" height="1" fill="#fff"/>
<rect x="130" y="515" width="4.5" height="1" fill="#fff"/>
<rect x="130" y="518" width="4.5" height="1" fill="#fff"/>
<rect x="130" y="520" width="4.5" height="1" fill="#fff"/>
<rect x="130" y="523" width="4.5" height="1" fill="#fff"/>
<rect x="130" y="526" width="4.5" height="1" fill="#fff"/>
<rect x="130" y="528" width="4.5" height="1" fill="#fff"/>
<rect x="130" y="531" width="4.5" height="1" fill="#fff"/>
<rect x="130" y="534" width="4.5" height="1" fill="#fff"/>
<rect x="130" y="536" width="4.5" height="1" fill="#fff"/>
<rect x="130" y="539" width="4.5" height="1" fill="#fff"/>
<rect x="130" y="542" width="4.5" height="1" fill="#fff"/>
<rect x="130" y="544" width="4.5" height="1" fill="#fff"/>
<rect x="130" y="547" width="4.5" height="1" fill="#fff"/>
<rect x="130" y="550" width="4.5" height="1" fill="#fff"/>
<rect x="130" y="552" width="4.5" height="1" fill="#fff"/>
<rect x="130" y="555" width="4.5" height="1" fill="#fff"/>
<rect x="130" y="558" width="4.5" height="1" fill="#fff"/>
<rect x="130" y="560" width="4.5" height="1" fill="#fff"/>
<rect x="130" y="563" width="4.5" height="1" fill="#fff"/>
<rect x="130" y="566" width="4.5" height="1" fill="#fff"/>
<rect x="130" y="568" width="4.5" height="1" fill="#fff"/>
<rect x="130" y="571" width="4.5" height="1" fill="#fff"/>
<rect x="130" y="574" width="4.5" height="1" fill="#fff"/>
<rect x="130" y="576" width="4.5" height="1" fill="#fff"/>
<rect x="130" y="579" width="4.5" height="1" fill="#fff"/>
<rect x="130" y="582" width="4.5" height="1" fill="#fff"/>
<rect x="130" y="584" width="4.5" height="1" fill="#fff"/>
<rect x="130" y="587" width="4.5" height="1" fill="#fff"/>
<rect x="130" y="590" width="4.5" height="1" fill="#fff"/>
<rect x="130" y="592" width="4.5" height="1" fill="#fff"/>
<rect x="130" y="595" width="4.5" height="1" fill="#fff"/>
<rect x="130" y="598" width="4.5" height="1" fill="#fff"/>
<rect x="130" y="600" width="4.5" height="1" fill="#fff"/>
<rect x="130" y="603" width="4.5" height="1" fill="#fff"/>
<rect x="130" y="606" width="4.5" height="1" fill="#fff"/>
<rect x="130" y="608" width="4.5" height="1" fill="#fff"/>
<rect x="130" y="611" width="4.5" height="1" fill="#fff"/>
<rect x="130" y="614" width="4.5" height="1" fill="#fff"/>
<rect x="130" y="616" width="4.5" height="1" fill="#fff"/>
<rect x="128" y="626" width="12" height="37" fill="#000"/>
<rect x="130" y="628" width="4.5" height="1" fill="#fff"/>
<rect x="130" y="630" width="4.5" height="1" fill="#fff"/>
<rect x="130" y="633" width="4.5" height="1" fill="#fff"/>
<rect x="130" y="636" width="4.5" height="1" fill="#fff"/>
<rect x="130" y="638" width="4.5" height="1" fill="#fff"/>
<rect x="130" y="641" width="4.5" height="1" fill="#fff"/>
<rect x="130" y="644" width="4.5" height="1" fill="#fff"/>
<rect x="130" y="646" width="4.5" height="1" fill="#fff"/>
<rect x="130" y="649" width="4.5" height="1" fill="#fff"/>
<rect x="130" y="652" width="4.5" height="1" fill="#fff"/>
<rect x="130" y="654" width="4.5" height="1" fill="#fff"/>
<rect x="130" y="657" width="4.5" height="1" fill="#fff"/>
<rect x="130" y="660" width="4.5" height="1" fill="#fff"/>
<rect x="129" y="665" width="12" height="11" fill="#000"/>
<rect x="130" y="666" width="10" height="9" fill="#fff"/>
<rect x="134" y="667" width="3" height="1" fill="#000"/>
<rect x="134" y="667" width="1" height="5" fill="#000"/>
<rect x="134" y="671" width="3" height="1" fill="#000"/>
<rect x="136" y="671" width="1" height="3" fill="#000"/>
<rect x="136" y="673" width="5" height="1" fill="#000"/>
<rect x="128" y="674" width="13" height="2" fill="#000"/>
<rect x="129" y="677" width="11" height="1" fill="#000"/>
<rect x="127" y="678" width="14" height="1" fill="#000"/>
<rect x="129" y="678" width="1" height="8" fill="#000"/>
<rect x="135" y="678" width="1" height="8" fill="#000"/>
<rect x="62.5" y="485.5" width="16" height="72.5" rx="2.5" fill="#fff" stroke="#000" stroke-width="1" shape-rendering="geometricPrecision"/>
<rect x="63" y="484" width="15" height="3" fill="#fff"/>
<text transform="scale(0.67,1)" font-size="14.2" fill="#000" stroke="#000" stroke-width="0.15"><tspan x="99.24" y="494.2">B</tspan><tspan x="99.44" y="509.8">A</tspan><tspan x="99.05" y="524.6">N</tspan><tspan x="98.94" y="540">K</tspan><tspan x="100.27" y="555">3</tspan></text>
<rect x="91.0" y="487.5" width="53" height="73.5" rx="4" ry="4" fill="#fff" stroke="#000" stroke-width="2" shape-rendering="geometricPrecision"/>
<rect x="106" y="487" width="4" height="74" fill="#000"/>
<rect x="124.3" y="487" width="3.5" height="74" fill="#000"/>
<rect x="92" y="488.5" width="14" height="71.5" rx="3" fill="#fff"/>
<rect x="110" y="488.5" width="14.3" height="71.5" rx="3" fill="#fff"/>
<rect x="127.8" y="488.5" width="15.2" height="71.5" rx="3" fill="#fff"/>
<text transform="scale(0.67,1)" font-size="14.2" fill="#000" stroke="#000" stroke-width="0.15"><tspan x="143.27" y="500.4">B</tspan><tspan x="143.47" y="516">A</tspan><tspan x="143.08" y="530.2">N</tspan><tspan x="142.97" y="545.6">K</tspan><tspan x="144.26" y="560.6">2</tspan></text>
<text transform="scale(0.67,1)" font-size="14.2" fill="#000" stroke="#000" stroke-width="0.15"><tspan x="170.13" y="500.4">B</tspan><tspan x="170.34" y="516">A</tspan><tspan x="169.94" y="530.2">N</tspan><tspan x="169.84" y="545.6">K</tspan><tspan x="170.93" y="560.6">1</tspan></text>
<text transform="scale(0.67,1)" font-size="14.2" fill="#000" stroke="#000" stroke-width="0.15"><tspan x="197.15" y="500.4">B</tspan><tspan x="197.35" y="516">A</tspan><tspan x="196.96" y="530.2">N</tspan><tspan x="196.85" y="545.6">K</tspan><tspan x="198.14" y="560.6">0</tspan></text>
<rect x="64" y="360" width="19" height="8" fill="#000"/>
<rect x="65" y="361" width="17" height="6" fill="#fff"/>
<rect x="66" y="362" width="4" height="4" fill="#000"/>
<rect x="67" y="363" width="2" height="2" fill="#fff"/>
<rect x="71" y="362" width="5" height="4" fill="#000"/>
<rect x="77" y="362" width="5" height="4" fill="#000"/>
<rect x="64" y="369" width="19" height="8" fill="#000"/>
<rect x="65" y="370" width="17" height="6" fill="#fff"/>
<rect x="66" y="371" width="4" height="4" fill="#000"/>
<rect x="67" y="372" width="2" height="2" fill="#fff"/>
<rect x="71" y="371" width="5" height="4" fill="#000"/>
<rect x="77" y="371" width="5" height="4" fill="#000"/>
<polygon points="64,371.5 66.5,374 57.5,383.5 54,381" fill="#000" shape-rendering="geometricPrecision"/>
<rect x="4.1" y="355.6" width="42.3" height="15.8" rx="2.4" ry="2.4" fill="#fff" stroke="#000" stroke-width="2.2" shape-rendering="geometricPrecision"/>
<polygon points="46.44,366.80 50.01,366.46 55.36,365.75 61.78,365.36 61.97,364.56 64.29,364.55 64.31,363.05 62.00,362.96 61.83,362.16 55.44,361.55 50.11,360.66 46.56,360.20" fill="#000" shape-rendering="geometricPrecision"/>
<polygon points="44.88,364.77 50.93,364.47 55.39,364.20 55.41,363.10 50.97,362.68 44.92,362.17" fill="#fff" shape-rendering="geometricPrecision"/>
<text transform="translate(6.97,368) scale(0.67,1)" x="0.00 12.05 27.34 42.41" y="0" font-size="14.4" fill="#000" stroke="#000" stroke-width="0.15" font-weight="normal">JP1A</text>
<rect x="17.6" y="382.6" width="37.8" height="15.8" rx="2.4" ry="2.4" fill="#fff" stroke="#000" stroke-width="2.2" shape-rendering="geometricPrecision"/>
<text transform="translate(18.77,394.8) scale(0.67,1)" x="0.00 11.30 26.89 41.60" y="0" font-size="14.4" fill="#000" stroke="#000" stroke-width="0.15" font-weight="normal">JP1B</text>
<rect x="296" y="149" width="177" height="19" fill="#000"/>
<rect x="304" y="156" width="33" height="5" fill="#fff"/>
<rect x="346" y="156" width="22" height="5" fill="#fff"/>
<rect x="401" y="156" width="65" height="5" fill="#fff"/>
<rect x="370" y="151" width="29" height="15" rx="1.2" fill="#fff" shape-rendering="geometricPrecision"/>
<text transform="translate(373.14,162.8) scale(0.67,1)" x="0.00 12.41 26.43" y="0" font-size="14.4" fill="#000" stroke="#000" stroke-width="0.15" font-weight="normal">PC4</text>
<rect x="296" y="193" width="177" height="19" fill="#000"/>
<rect x="304" y="200" width="33" height="6" fill="#fff"/>
<rect x="346" y="200" width="22" height="6" fill="#fff"/>
<rect x="401" y="200" width="65" height="6" fill="#fff"/>
<rect x="370" y="196" width="29" height="14" rx="1.2" fill="#fff" shape-rendering="geometricPrecision"/>
<text transform="translate(373.04,207) scale(0.67,1)" x="0.00 12.71 26.72" y="0" font-size="14.4" fill="#000" stroke="#000" stroke-width="0.15" font-weight="normal">PC3</text>
<rect x="296" y="238" width="177" height="19" fill="#000"/>
<rect x="304" y="245" width="33" height="6" fill="#fff"/>
<rect x="346" y="245" width="22" height="6" fill="#fff"/>
<rect x="401" y="245" width="65" height="6" fill="#fff"/>
<rect x="370" y="241" width="29" height="14" rx="1.2" fill="#fff" shape-rendering="geometricPrecision"/>
<text transform="translate(372.74,251.2) scale(0.67,1)" x="0.00 13.01 27.28" y="0" font-size="14.4" fill="#000" stroke="#000" stroke-width="0.15" font-weight="normal">PC2</text>
<rect x="296" y="283" width="177" height="19" fill="#000"/>
<rect x="304" y="289" width="33" height="6" fill="#fff"/>
<rect x="346" y="289" width="22" height="6" fill="#fff"/>
<rect x="401" y="289" width="65" height="6" fill="#fff"/>
<rect x="370" y="285.5" width="29" height="13.0" rx="1.2" fill="#fff" shape-rendering="geometricPrecision"/>
<text transform="translate(372.74,295.8) scale(0.67,1)" x="0.00 13.01 27.53" y="0" font-size="14.4" fill="#000" stroke="#000" stroke-width="0.15" font-weight="normal">PC1</text>
<rect x="270" y="326" width="152" height="19" fill="#000"/>
<rect x="276" y="333" width="53" height="6" fill="#fff"/>
<rect x="363" y="333" width="7" height="6" fill="#fff"/>
<rect x="379" y="333" width="36" height="6" fill="#fff"/>
<rect x="332" y="329" width="28" height="14" fill="#fff"/>
<text transform="translate(334.68,340.3) scale(0.67,1)" x="0.00 11.77 27.10" y="0" font-size="14.4" fill="#000" stroke="#000" stroke-width="0.15" font-weight="normal">AGP</text>
<rect x="483" y="149" width="42" height="88" fill="#000"/>
<rect x="482" y="183" width="44" height="16" fill="#000"/>
<rect x="484" y="184" width="40" height="14" fill="#fff"/>
<rect x="518" y="234.5" width="5" height="1.0" fill="#fff"/>
<text transform="translate(485.94,194.8) scale(0.67,1)" x="0.00 15.70 24.34 42.01" y="0" font-size="14.4" fill="#000" stroke="#000" stroke-width="0.15" font-weight="normal">BIOS</text>
<rect x="198" y="152" width="60" height="60" fill="#000"/>
<rect x="199" y="149" width="56" height="3" fill="#000"/>
<rect x="201" y="212" width="56" height="3" fill="#000"/>
<rect x="195" y="155" width="3" height="56" fill="#000"/>
<rect x="258" y="153" width="3" height="56" fill="#000"/>
<rect x="204" y="149" width="1" height="2" fill="#fff"/>
<rect x="215" y="149" width="1" height="2" fill="#fff"/>
<rect x="218" y="149" width="1" height="2" fill="#fff"/>
<rect x="221" y="149" width="1" height="2" fill="#fff"/>
<rect x="232" y="149" width="1" height="2" fill="#fff"/>
<rect x="235" y="149" width="1" height="2" fill="#fff"/>
<rect x="238" y="149" width="1" height="2" fill="#fff"/>
<rect x="249" y="149" width="1" height="2" fill="#fff"/>
<rect x="252" y="149" width="1" height="2" fill="#fff"/>
<rect x="203" y="213" width="1" height="2" fill="#fff"/>
<rect x="206" y="213" width="1" height="2" fill="#fff"/>
<rect x="209" y="213" width="1" height="2" fill="#fff"/>
<rect x="220" y="213" width="1" height="2" fill="#fff"/>
<rect x="223" y="213" width="1" height="2" fill="#fff"/>
<rect x="226" y="213" width="1" height="2" fill="#fff"/>
<rect x="237" y="213" width="1" height="2" fill="#fff"/>
<rect x="240" y="213" width="1" height="2" fill="#fff"/>
<rect x="243" y="213" width="1" height="2" fill="#fff"/>
<rect x="254" y="213" width="1" height="2" fill="#fff"/>
<rect x="195" y="157" width="2" height="1" fill="#fff"/>
<rect x="195" y="160" width="2" height="1" fill="#fff"/>
<rect x="195" y="163" width="2" height="1" fill="#fff"/>
<rect x="195" y="174" width="2" height="1" fill="#fff"/>
<rect x="195" y="177" width="2" height="1" fill="#fff"/>
<rect x="195" y="180" width="2" height="1" fill="#fff"/>
<rect x="195" y="191" width="2" height="1" fill="#fff"/>
<rect x="195" y="194" width="2" height="1" fill="#fff"/>
<rect x="195" y="197" width="2" height="1" fill="#fff"/>
<rect x="259" y="160" width="2" height="1" fill="#fff"/>
<rect x="259" y="163" width="2" height="1" fill="#fff"/>
<rect x="259" y="166" width="2" height="1" fill="#fff"/>
<rect x="259" y="169" width="2" height="1" fill="#fff"/>
<rect x="259" y="180" width="2" height="1" fill="#fff"/>
<rect x="259" y="183" width="2" height="1" fill="#fff"/>
<rect x="259" y="186" width="2" height="1" fill="#fff"/>
<rect x="259" y="189" width="2" height="1" fill="#fff"/>
<rect x="259" y="200" width="2" height="1" fill="#fff"/>
<rect x="259" y="203" width="2" height="1" fill="#fff"/>
<rect x="259" y="206" width="2" height="1" fill="#fff"/>
<rect x="488" y="253" width="59" height="37" fill="#000"/>
<rect x="489" y="250" width="55" height="3" fill="#000"/>
<rect x="491" y="290" width="55" height="3" fill="#000"/>
<rect x="485" y="256" width="3" height="33" fill="#000"/>
<rect x="547" y="254" width="3" height="33" fill="#000"/>
<rect x="493" y="250" width="1" height="2" fill="#fff"/>
<rect x="496" y="250" width="1" height="2" fill="#fff"/>
<rect x="507" y="250" width="1" height="2" fill="#fff"/>
<rect x="510" y="250" width="1" height="2" fill="#fff"/>
<rect x="513" y="250" width="1" height="2" fill="#fff"/>
<rect x="524" y="250" width="1" height="2" fill="#fff"/>
<rect x="527" y="250" width="1" height="2" fill="#fff"/>
<rect x="530" y="250" width="1" height="2" fill="#fff"/>
<rect x="541" y="250" width="1" height="2" fill="#fff"/>
<rect x="544" y="250" width="1" height="2" fill="#fff"/>
<rect x="547" y="250" width="1" height="2" fill="#fff"/>
<rect x="496" y="291" width="1" height="2" fill="#fff"/>
<rect x="499" y="291" width="1" height="2" fill="#fff"/>
<rect x="502" y="291" width="1" height="2" fill="#fff"/>
<rect x="505" y="291" width="1" height="2" fill="#fff"/>
<rect x="513" y="291" width="1" height="2" fill="#fff"/>
<rect x="516" y="291" width="1" height="2" fill="#fff"/>
<rect x="519" y="291" width="1" height="2" fill="#fff"/>
<rect x="530" y="291" width="1" height="2" fill="#fff"/>
<rect x="533" y="291" width="1" height="2" fill="#fff"/>
<rect x="536" y="291" width="1" height="2" fill="#fff"/>
<rect x="485" y="258" width="2" height="1" fill="#fff"/>
<rect x="485" y="261" width="2" height="1" fill="#fff"/>
<rect x="485" y="264" width="2" height="1" fill="#fff"/>
<rect x="485" y="267" width="2" height="1" fill="#fff"/>
<rect x="485" y="278" width="2" height="1" fill="#fff"/>
<rect x="485" y="281" width="2" height="1" fill="#fff"/>
<rect x="485" y="284" width="2" height="1" fill="#fff"/>
<rect x="548" y="258" width="2" height="1" fill="#fff"/>
<rect x="548" y="270" width="2" height="1" fill="#fff"/>
<rect x="548" y="273" width="2" height="1" fill="#fff"/>
<rect x="548" y="276" width="2" height="1" fill="#fff"/>
<rect x="291" y="413" width="59" height="60" fill="#000"/>
<rect x="292" y="410" width="55" height="3" fill="#000"/>
<rect x="294" y="473" width="55" height="3" fill="#000"/>
<rect x="288" y="416" width="3" height="56" fill="#000"/>
<rect x="350" y="414" width="3" height="56" fill="#000"/>
<rect x="299" y="410" width="1" height="2" fill="#fff"/>
<rect x="302" y="410" width="1" height="2" fill="#fff"/>
<rect x="313" y="410" width="1" height="2" fill="#fff"/>
<rect x="316" y="410" width="1" height="2" fill="#fff"/>
<rect x="319" y="410" width="1" height="2" fill="#fff"/>
<rect x="330" y="410" width="1" height="2" fill="#fff"/>
<rect x="333" y="410" width="1" height="2" fill="#fff"/>
<rect x="336" y="410" width="1" height="2" fill="#fff"/>
<rect x="301" y="474" width="1" height="2" fill="#fff"/>
<rect x="304" y="474" width="1" height="2" fill="#fff"/>
<rect x="307" y="474" width="1" height="2" fill="#fff"/>
<rect x="318" y="474" width="1" height="2" fill="#fff"/>
<rect x="321" y="474" width="1" height="2" fill="#fff"/>
<rect x="324" y="474" width="1" height="2" fill="#fff"/>
<rect x="335" y="474" width="1" height="2" fill="#fff"/>
<rect x="338" y="474" width="1" height="2" fill="#fff"/>
<rect x="341" y="474" width="1" height="2" fill="#fff"/>
<rect x="288" y="421" width="2" height="1" fill="#fff"/>
<rect x="288" y="424" width="2" height="1" fill="#fff"/>
<rect x="288" y="427" width="2" height="1" fill="#fff"/>
<rect x="288" y="435" width="2" height="1" fill="#fff"/>
<rect x="288" y="438" width="2" height="1" fill="#fff"/>
<rect x="288" y="441" width="2" height="1" fill="#fff"/>
<rect x="288" y="444" width="2" height="1" fill="#fff"/>
<rect x="288" y="455" width="2" height="1" fill="#fff"/>
<rect x="288" y="458" width="2" height="1" fill="#fff"/>
<rect x="288" y="461" width="2" height="1" fill="#fff"/>
<rect x="288" y="464" width="2" height="1" fill="#fff"/>
<rect x="351" y="427" width="2" height="1" fill="#fff"/>
<rect x="351" y="430" width="2" height="1" fill="#fff"/>
<rect x="351" y="433" width="2" height="1" fill="#fff"/>
<rect x="351" y="444" width="2" height="1" fill="#fff"/>
<rect x="351" y="447" width="2" height="1" fill="#fff"/>
<rect x="351" y="450" width="2" height="1" fill="#fff"/>
<rect x="351" y="461" width="2" height="1" fill="#fff"/>
<rect x="351" y="464" width="2" height="1" fill="#fff"/>
<rect x="351" y="467" width="2" height="1" fill="#fff"/>
<rect x="535" y="186" width="19" height="7" fill="#000"/>
<rect x="541" y="187" width="1" height="5" fill="#fff"/>
<rect x="547" y="187" width="1" height="5" fill="#fff"/>
<rect x="549" y="188" width="2" height="3" fill="#fff"/>
<rect x="552" y="187" width="1" height="5" fill="#fff"/>
<rect x="535" y="196" width="30" height="7" fill="#000"/>
<rect x="541" y="197" width="1" height="5" fill="#fff"/>
<rect x="546" y="197" width="2" height="5" fill="#fff"/>
<rect x="552" y="197" width="2" height="5" fill="#fff"/>
<rect x="558" y="197" width="1" height="5" fill="#fff"/>
<rect x="560" y="198" width="3" height="3" fill="#fff"/>
<rect x="569.1" y="181.1" width="23.3" height="16.3" rx="2.4" ry="2.4" fill="#fff" stroke="#000" stroke-width="2.2" shape-rendering="geometricPrecision"/>
<polygon points="569.00,186.10 565.96,186.50 561.40,187.30 555.93,187.80 555.78,188.60 553.80,188.65 553.80,190.15 555.78,190.20 555.93,191.00 561.40,191.50 565.96,192.30 569.00,192.70" fill="#000" shape-rendering="geometricPrecision"/>
<polygon points="570.60,188.10 565.20,188.50 561.40,188.85 561.40,189.95 565.20,190.30 570.60,190.70" fill="#fff" shape-rendering="geometricPrecision"/>
<text transform="translate(572.87,194.1) scale(0.67,1)" x="0.00 12.41" y="0" font-size="14.4" fill="#000" stroke="#000" stroke-width="0.15" font-weight="normal">J1</text>
<polygon points="563.5,197 565.5,199.5 573.5,209 570,209.5 563,201.5" fill="#000" shape-rendering="geometricPrecision"/>
<rect x="572.1" y="207.1" width="32.3" height="16.3" rx="2.4" ry="2.4" fill="#fff" stroke="#000" stroke-width="2.2" shape-rendering="geometricPrecision"/>
<text transform="translate(575.26,219.8) scale(0.67,1)" x="0.00 7.59 24.37" y="0" font-size="14.4" fill="#000" stroke="#000" stroke-width="0.15" font-weight="normal">IR1</text>
<rect x="291" y="354" width="20" height="7" fill="#000"/>
<rect x="292" y="355" width="1" height="5" fill="#fff"/>
<rect x="297" y="355" width="2" height="5" fill="#fff"/>
<rect x="303" y="355" width="2" height="5" fill="#fff"/>
<rect x="306" y="356" width="2" height="3" fill="#fff"/>
<rect x="309" y="355" width="1" height="5" fill="#fff"/>
<rect x="252.1" y="350.1" width="23.8" height="15.8" rx="2.4" ry="2.4" fill="#fff" stroke="#000" stroke-width="2.2" shape-rendering="geometricPrecision"/>
<polygon points="276.00,360.90 279.06,360.50 283.65,359.70 289.16,359.20 289.31,358.40 291.30,358.35 291.30,356.85 289.31,356.80 289.16,356.00 283.65,355.50 279.06,354.70 276.00,354.30" fill="#000" shape-rendering="geometricPrecision"/>
<polygon points="274.40,358.90 279.82,358.50 283.65,358.15 283.65,357.05 279.82,356.70 274.40,356.30" fill="#fff" shape-rendering="geometricPrecision"/>
<text transform="translate(254.46,361.5) scale(0.67,1)" x="0.00 17.21" y="0" font-size="14.4" fill="#000" stroke="#000" stroke-width="0.15" font-weight="normal">C1</text>
<rect x="506" y="371" width="7" height="19" fill="#000"/>
<rect x="507" y="377" width="5" height="1" fill="#fff"/>
<rect x="507" y="383" width="5" height="1" fill="#fff"/>
<rect x="508" y="385" width="3" height="2" fill="#fff"/>
<rect x="507" y="388" width="5" height="1" fill="#fff"/>
<rect x="528.1" y="372.1" width="23.8" height="16.8" rx="2.4" ry="2.4" fill="#fff" stroke="#000" stroke-width="2.2" shape-rendering="geometricPrecision"/>
<polygon points="528.00,376.70 524.96,377.10 520.40,377.90 514.93,378.40 514.78,379.20 512.80,379.25 512.80,380.75 514.78,380.80 514.93,381.60 520.40,382.10 524.96,382.90 528.00,383.30" fill="#000" shape-rendering="geometricPrecision"/>
<polygon points="529.60,378.70 524.20,379.10 520.40,379.45 520.40,380.55 524.20,380.90 529.60,381.30" fill="#fff" shape-rendering="geometricPrecision"/>
<text transform="translate(531.46,384) scale(0.67,1)" x="0.00 16.66" y="0" font-size="14.4" fill="#000" stroke="#000" stroke-width="0.15" font-weight="normal">C2</text>
<rect x="528" y="402" width="7" height="19" fill="#000"/>
<rect x="529" y="403" width="5" height="1" fill="#fff"/>
<rect x="529" y="408" width="5" height="1" fill="#fff"/>
<rect x="529" y="414" width="5" height="1" fill="#fff"/>
<rect x="551.1" y="403.1" width="23.3" height="16.3" rx="2.4" ry="2.4" fill="#fff" stroke="#000" stroke-width="2.2" shape-rendering="geometricPrecision"/>
<polygon points="551.00,407.70 547.76,408.10 542.90,408.90 537.07,409.40 536.91,410.20 534.80,410.25 534.80,411.75 536.91,411.80 537.07,412.60 542.90,413.10 547.76,413.90 551.00,414.30" fill="#000" shape-rendering="geometricPrecision"/>
<polygon points="552.60,409.70 546.95,410.10 542.90,410.45 542.90,411.55 546.95,411.90 552.60,412.30" fill="#fff" shape-rendering="geometricPrecision"/>
<text transform="translate(554.47,415.6) scale(0.67,1)" x="0.00 11.71" y="0" font-size="14.4" fill="#000" stroke="#000" stroke-width="0.15" font-weight="normal">J2</text>
<rect x="407" y="350" width="85" height="25" fill="#000"/>
<rect x="410" y="352" width="3" height="6" fill="#fff"/>
<rect x="410" y="368" width="3" height="5" fill="#fff"/>
<rect x="415" y="352" width="4" height="6" fill="#fff"/>
<rect x="415" y="368" width="4" height="5" fill="#fff"/>
<rect x="421" y="352" width="4" height="6" fill="#fff"/>
<rect x="421" y="368" width="4" height="5" fill="#fff"/>
<rect x="427" y="352" width="3" height="6" fill="#fff"/>
<rect x="427" y="368" width="3" height="5" fill="#fff"/>
<rect x="468" y="352" width="3" height="6" fill="#fff"/>
<rect x="468" y="368" width="3" height="5" fill="#fff"/>
<rect x="474" y="352" width="3" height="6" fill="#fff"/>
<rect x="474" y="368" width="3" height="5" fill="#fff"/>
<rect x="480" y="352" width="3" height="6" fill="#fff"/>
<rect x="480" y="368" width="3" height="5" fill="#fff"/>
<rect x="486" y="352" width="3" height="6" fill="#fff"/>
<rect x="486" y="368" width="3" height="5" fill="#fff"/>
<rect x="432" y="352" width="4" height="1" fill="#fff"/>
<rect x="432" y="372" width="4" height="1" fill="#fff"/>
<rect x="438" y="352" width="4" height="1" fill="#fff"/>
<rect x="438" y="372" width="4" height="1" fill="#fff"/>
<rect x="444" y="352" width="4" height="1" fill="#fff"/>
<rect x="444" y="372" width="4" height="1" fill="#fff"/>
<rect x="450" y="352" width="4" height="1" fill="#fff"/>
<rect x="450" y="372" width="4" height="1" fill="#fff"/>
<rect x="456" y="352" width="4" height="1" fill="#fff"/>
<rect x="456" y="372" width="4" height="1" fill="#fff"/>
<rect x="462" y="352" width="4" height="1" fill="#fff"/>
<rect x="462" y="372" width="4" height="1" fill="#fff"/>
<rect x="433" y="352" width="2" height="3" fill="#fff"/>
<rect x="433" y="370" width="2" height="3" fill="#fff"/>
<rect x="413" y="360" width="71" height="5" fill="#fff"/>
<polygon points="492,360 489,362.5 492,365" fill="#fff" shape-rendering="geometricPrecision"/>
<rect x="434.5" y="353.8" width="30" height="16.6" rx="3" fill="#fff" stroke="#000" stroke-width="1.6" shape-rendering="geometricPrecision"/>
<text transform="translate(436.86,367) scale(0.67,1)" x="0.00 10.34 23.75" y="0" font-size="14.4" fill="#000" stroke="#000" stroke-width="0.15" font-weight="normal">TAG</text>
<rect x="415" y="390" width="66" height="44" fill="#000"/>
<rect x="418" y="392" width="60" height="39" fill="#fff"/>
<rect x="412" y="391" width="3" height="41" fill="#000"/>
<rect x="412" y="393" width="3" height="1" fill="#fff"/>
<rect x="412" y="397" width="3" height="1" fill="#fff"/>
<rect x="412" y="400" width="3" height="1" fill="#fff"/>
<rect x="412" y="404" width="3" height="1" fill="#fff"/>
<rect x="412" y="407" width="3" height="1" fill="#fff"/>
<rect x="412" y="411" width="3" height="1" fill="#fff"/>
<rect x="412" y="414" width="3" height="1" fill="#fff"/>
<rect x="412" y="418" width="3" height="1" fill="#fff"/>
<rect x="412" y="421" width="3" height="1" fill="#fff"/>
<rect x="412" y="425" width="3" height="1" fill="#fff"/>
<rect x="412" y="429" width="3" height="1" fill="#fff"/>
<rect x="481" y="391" width="2" height="41" fill="#000"/>
<rect x="481" y="393" width="2" height="1" fill="#fff"/>
<rect x="481" y="397" width="2" height="1" fill="#fff"/>
<rect x="481" y="400" width="2" height="1" fill="#fff"/>
<rect x="481" y="404" width="2" height="1" fill="#fff"/>
<rect x="481" y="407" width="2" height="1" fill="#fff"/>
<rect x="481" y="411" width="2" height="1" fill="#fff"/>
<rect x="481" y="414" width="2" height="1" fill="#fff"/>
<rect x="481" y="418" width="2" height="1" fill="#fff"/>
<rect x="481" y="421" width="2" height="1" fill="#fff"/>
<rect x="481" y="425" width="2" height="1" fill="#fff"/>
<rect x="481" y="429" width="2" height="1" fill="#fff"/>
<rect x="419" y="387" width="60" height="3" fill="#000"/>
<rect x="421" y="387" width="1" height="3" fill="#fff"/>
<rect x="424" y="387" width="1" height="3" fill="#fff"/>
<rect x="427" y="387" width="1" height="3" fill="#fff"/>
<rect x="430" y="387" width="1" height="3" fill="#fff"/>
<rect x="433" y="387" width="1" height="3" fill="#fff"/>
<rect x="458" y="387" width="1" height="3" fill="#fff"/>
<rect x="461" y="387" width="1" height="3" fill="#fff"/>
<rect x="464" y="387" width="1" height="3" fill="#fff"/>
<rect x="467" y="387" width="1" height="3" fill="#fff"/>
<rect x="470" y="387" width="1" height="3" fill="#fff"/>
<rect x="473" y="387" width="1" height="3" fill="#fff"/>
<rect x="476" y="387" width="1" height="3" fill="#fff"/>
<rect x="415" y="453" width="66" height="45" fill="#000"/>
<rect x="418" y="455" width="60" height="40" fill="#fff"/>
<rect x="412" y="454" width="3" height="42" fill="#000"/>
<rect x="412" y="456" width="3" height="1" fill="#fff"/>
<rect x="412" y="460" width="3" height="1" fill="#fff"/>
<rect x="412" y="463" width="3" height="1" fill="#fff"/>
<rect x="412" y="467" width="3" height="1" fill="#fff"/>
<rect x="412" y="470" width="3" height="1" fill="#fff"/>
<rect x="412" y="474" width="3" height="1" fill="#fff"/>
<rect x="412" y="477" width="3" height="1" fill="#fff"/>
<rect x="412" y="481" width="3" height="1" fill="#fff"/>
<rect x="412" y="484" width="3" height="1" fill="#fff"/>
<rect x="412" y="488" width="3" height="1" fill="#fff"/>
<rect x="412" y="492" width="3" height="1" fill="#fff"/>
<rect x="481" y="454" width="2" height="42" fill="#000"/>
<rect x="481" y="456" width="2" height="1" fill="#fff"/>
<rect x="481" y="460" width="2" height="1" fill="#fff"/>
<rect x="481" y="463" width="2" height="1" fill="#fff"/>
<rect x="481" y="467" width="2" height="1" fill="#fff"/>
<rect x="481" y="470" width="2" height="1" fill="#fff"/>
<rect x="481" y="474" width="2" height="1" fill="#fff"/>
<rect x="481" y="477" width="2" height="1" fill="#fff"/>
<rect x="481" y="481" width="2" height="1" fill="#fff"/>
<rect x="481" y="484" width="2" height="1" fill="#fff"/>
<rect x="481" y="488" width="2" height="1" fill="#fff"/>
<rect x="481" y="492" width="2" height="1" fill="#fff"/>
<rect x="416" y="498" width="64" height="3" fill="#000"/>
<rect x="429" y="499" width="1" height="2" fill="#fff"/>
<rect x="432" y="499" width="1" height="2" fill="#fff"/>
<rect x="435" y="499" width="1" height="2" fill="#fff"/>
<rect x="438" y="499" width="1" height="2" fill="#fff"/>
<rect x="441" y="499" width="1" height="2" fill="#fff"/>
<rect x="444" y="499" width="1" height="2" fill="#fff"/>
<rect x="447" y="499" width="1" height="2" fill="#fff"/>
<rect x="450" y="499" width="1" height="2" fill="#fff"/>
<rect x="453" y="499" width="1" height="2" fill="#fff"/>
<rect x="456" y="499" width="1" height="2" fill="#fff"/>
<rect x="459" y="499" width="1" height="2" fill="#fff"/>
<rect x="462" y="499" width="1" height="2" fill="#fff"/>
<rect x="416" y="434" width="64" height="21" fill="#000"/>
<rect x="419" y="436" width="58" height="15.5" rx="2.5" fill="#fff" stroke="#000" stroke-width="1.2" shape-rendering="geometricPrecision"/>
<rect x="420" y="453" width="1" height="1" fill="#fff"/>
<rect x="422" y="453" width="1" height="1" fill="#fff"/>
<rect x="424" y="453" width="1" height="1" fill="#fff"/>
<rect x="426" y="453" width="1" height="1" fill="#fff"/>
<rect x="428" y="453" width="1" height="1" fill="#fff"/>
<rect x="430" y="453" width="1" height="1" fill="#fff"/>
<rect x="432" y="453" width="1" height="1" fill="#fff"/>
<rect x="456" y="453" width="1" height="1" fill="#fff"/>
<rect x="458" y="453" width="1" height="1" fill="#fff"/>
<rect x="460" y="453" width="1" height="1" fill="#fff"/>
<rect x="462" y="453" width="1" height="1" fill="#fff"/>
<rect x="464" y="453" width="1" height="1" fill="#fff"/>
<rect x="466" y="453" width="1" height="1" fill="#fff"/>
<rect x="468" y="453" width="1" height="1" fill="#fff"/>
<rect x="470" y="453" width="1" height="1" fill="#fff"/>
<rect x="472" y="453" width="1" height="1" fill="#fff"/>
<rect x="474" y="453" width="1" height="1" fill="#fff"/>
<rect x="476" y="453" width="1" height="1" fill="#fff"/>
<text transform="translate(424.24,448.6) scale(0.67,1)" x="0.00 13.49 27.12 41.34 45.82 60.86" y="0" font-size="14.4" fill="#000" stroke="#000" stroke-width="0.15" font-weight="normal">BANK 0</text>
<path d="M478,384.5 L484.3,387 V438.5 L490,443.5 L484.3,448 V500 L476,504.5" fill="none" stroke="#000" stroke-width="1" shape-rendering="geometricPrecision"/>
<rect x="491.1" y="435.6" width="48.3" height="16.3" rx="2.4" ry="2.4" fill="#fff" stroke="#000" stroke-width="2.2" shape-rendering="geometricPrecision"/>
<text transform="translate(493.56,448) scale(0.67,1)" x="0.00 14.37 27.01 41.73 54.39" y="0" font-size="14.4" fill="#000" stroke="#000" stroke-width="0.15" font-weight="normal">CACHE</text>
<rect x="254" y="493" width="131" height="10" fill="#000"/>
<rect x="255" y="494" width="129" height="8" fill="#fff"/>
<polygon points="383.5,493 390,500 390,503 383.5,503" fill="#000" shape-rendering="geometricPrecision"/>
<rect x="386" y="498" width="2" height="2" fill="#fff"/>
<rect x="269" y="502" width="131" height="136" fill="#000"/>
<rect x="299" y="537" width="69" height="69" fill="#fff"/>
<g fill="#fff">
<rect x="274" y="510" width="3" height="2"/><rect x="275" y="509" width="1" height="1"/>
<rect x="280" y="509" width="2" height="3"/><rect x="282" y="510" width="1" height="1"/>
<rect x="286" y="510" width="3" height="2"/>
<rect x="292" y="510" width="3" height="1"/><rect x="293" y="509" width="1" height="3"/>
<rect x="298" y="510" width="3" height="2"/><rect x="299" y="509" width="1" height="1"/>
<rect x="303" y="510" width="3" height="2"/><rect x="304" y="509" width="1" height="1"/>
<rect x="309" y="509" width="2" height="3"/><rect x="311" y="510" width="1" height="1"/>
<rect x="315" y="510" width="3" height="2"/>
<rect x="321" y="510" width="3" height="1"/><rect x="322" y="509" width="1" height="3"/>
<rect x="327" y="510" width="3" height="2"/><rect x="328" y="509" width="1" height="1"/>
<rect x="333" y="510" width="3" height="2"/><rect x="334" y="509" width="1" height="1"/>
<rect x="339" y="510" width="2" height="2"/>
<rect x="345" y="510" width="3" height="2"/>
<rect x="350" y="510" width="2" height="2"/>
<rect x="356" y="510" width="3" height="2"/><rect x="357" y="509" width="1" height="1"/>
<rect x="362" y="510" width="2" height="2"/>
<rect x="368" y="509" width="2" height="3"/><rect x="370" y="510" width="1" height="1"/>
<rect x="374" y="510" width="2" height="2"/>
<rect x="380" y="510" width="3" height="1"/><rect x="381" y="509" width="1" height="3"/>
<rect x="386" y="510" width="2" height="2"/>
<rect x="392" y="510" width="3" height="2"/><rect x="393" y="509" width="1" height="1"/>
<rect x="274" y="515" width="2" height="3"/><rect x="276" y="516" width="1" height="1"/>
<rect x="280" y="516" width="3" height="2"/>
<rect x="286" y="516" width="3" height="1"/><rect x="287" y="515" width="1" height="3"/>
<rect x="292" y="516" width="3" height="2"/><rect x="293" y="515" width="1" height="1"/>
<rect x="298" y="515" width="2" height="3"/><rect x="300" y="516" width="1" height="1"/>
<rect x="303" y="515" width="2" height="3"/><rect x="305" y="516" width="1" height="1"/>
<rect x="309" y="516" width="3" height="2"/>
<rect x="315" y="516" width="3" height="1"/><rect x="316" y="515" width="1" height="3"/>
<rect x="321" y="516" width="3" height="2"/><rect x="322" y="515" width="1" height="1"/>
<rect x="327" y="515" width="2" height="3"/><rect x="329" y="516" width="1" height="1"/>
<rect x="333" y="516" width="2" height="2"/>
<rect x="339" y="516" width="3" height="2"/>
<rect x="345" y="516" width="2" height="2"/>
<rect x="350" y="516" width="3" height="2"/><rect x="351" y="515" width="1" height="1"/>
<rect x="356" y="516" width="2" height="2"/>
<rect x="362" y="515" width="2" height="3"/><rect x="364" y="516" width="1" height="1"/>
<rect x="368" y="516" width="2" height="2"/>
<rect x="374" y="516" width="3" height="1"/><rect x="375" y="515" width="1" height="3"/>
<rect x="380" y="516" width="2" height="2"/>
<rect x="386" y="515" width="2" height="3"/><rect x="388" y="516" width="1" height="1"/>
<rect x="392" y="516" width="2" height="2"/>
<rect x="274" y="522" width="3" height="2"/>
<rect x="280" y="522" width="3" height="1"/><rect x="281" y="521" width="1" height="3"/>
<rect x="286" y="522" width="3" height="2"/><rect x="287" y="521" width="1" height="1"/>
<rect x="292" y="521" width="2" height="3"/><rect x="294" y="522" width="1" height="1"/>
<rect x="298" y="522" width="3" height="2"/>
<rect x="303" y="522" width="3" height="2"/>
<rect x="309" y="522" width="3" height="1"/><rect x="310" y="521" width="1" height="3"/>
<rect x="315" y="522" width="3" height="2"/><rect x="316" y="521" width="1" height="1"/>
<rect x="321" y="521" width="2" height="3"/><rect x="323" y="522" width="1" height="1"/>
<rect x="327" y="522" width="3" height="2"/>
<rect x="333" y="522" width="3" height="2"/>
<rect x="339" y="522" width="2" height="2"/>
<rect x="345" y="522" width="3" height="2"/><rect x="346" y="521" width="1" height="1"/>
<rect x="350" y="522" width="2" height="2"/>
<rect x="356" y="522" width="3" height="2"/>
<rect x="362" y="522" width="2" height="2"/>
<rect x="368" y="522" width="3" height="1"/><rect x="369" y="521" width="1" height="3"/>
<rect x="374" y="522" width="2" height="2"/>
<rect x="380" y="521" width="2" height="3"/><rect x="382" y="522" width="1" height="1"/>
<rect x="386" y="522" width="2" height="2"/>
<rect x="392" y="522" width="3" height="2"/>
<rect x="274" y="528" width="3" height="1"/><rect x="275" y="527" width="1" height="3"/>
<rect x="280" y="528" width="3" height="2"/><rect x="281" y="527" width="1" height="1"/>
<rect x="286" y="527" width="2" height="3"/><rect x="288" y="528" width="1" height="1"/>
<rect x="292" y="528" width="3" height="2"/>
<rect x="298" y="528" width="3" height="1"/><rect x="299" y="527" width="1" height="3"/>
<rect x="303" y="528" width="3" height="1"/><rect x="304" y="527" width="1" height="3"/>
<rect x="309" y="528" width="3" height="2"/><rect x="310" y="527" width="1" height="1"/>
<rect x="315" y="527" width="2" height="3"/><rect x="317" y="528" width="1" height="1"/>
<rect x="321" y="528" width="3" height="2"/>
<rect x="327" y="528" width="3" height="1"/><rect x="328" y="527" width="1" height="3"/>
<rect x="333" y="528" width="2" height="2"/>
<rect x="339" y="528" width="3" height="2"/><rect x="340" y="527" width="1" height="1"/>
<rect x="345" y="528" width="2" height="2"/>
<rect x="350" y="528" width="3" height="2"/>
<rect x="356" y="528" width="2" height="2"/>
<rect x="362" y="528" width="3" height="1"/><rect x="363" y="527" width="1" height="3"/>
<rect x="368" y="528" width="2" height="2"/>
<rect x="374" y="527" width="2" height="3"/><rect x="376" y="528" width="1" height="1"/>
<rect x="380" y="528" width="2" height="2"/>
<rect x="386" y="528" width="3" height="1"/><rect x="387" y="527" width="1" height="3"/>
<rect x="392" y="528" width="2" height="2"/>
<rect x="274" y="534" width="3" height="1"/><rect x="275" y="533" width="1" height="3"/>
<rect x="280" y="534" width="3" height="2"/><rect x="281" y="533" width="1" height="1"/>
<rect x="286" y="533" width="2" height="3"/><rect x="288" y="534" width="1" height="1"/>
<rect x="292" y="534" width="3" height="2"/>
<rect x="374" y="533" width="2" height="3"/><rect x="376" y="534" width="1" height="1"/>
<rect x="380" y="534" width="3" height="2"/>
<rect x="386" y="534" width="3" height="1"/><rect x="387" y="533" width="1" height="3"/>
<rect x="392" y="534" width="3" height="1"/><rect x="393" y="533" width="1" height="3"/>
<rect x="274" y="540" width="3" height="2"/><rect x="275" y="539" width="1" height="1"/>
<rect x="280" y="539" width="2" height="3"/><rect x="282" y="540" width="1" height="1"/>
<rect x="286" y="540" width="3" height="2"/>
<rect x="292" y="540" width="3" height="1"/><rect x="293" y="539" width="1" height="3"/>
<rect x="374" y="540" width="3" height="2"/>
<rect x="380" y="540" width="3" height="1"/><rect x="381" y="539" width="1" height="3"/>
<rect x="386" y="540" width="3" height="2"/><rect x="387" y="539" width="1" height="1"/>
<rect x="392" y="540" width="3" height="2"/><rect x="393" y="539" width="1" height="1"/>
<rect x="274" y="544" width="2" height="3"/><rect x="276" y="545" width="1" height="1"/>
<rect x="280" y="545" width="3" height="2"/>
<rect x="286" y="545" width="3" height="1"/><rect x="287" y="544" width="1" height="3"/>
<rect x="292" y="545" width="3" height="2"/><rect x="293" y="544" width="1" height="1"/>
<rect x="374" y="545" width="2" height="2"/>
<rect x="380" y="545" width="2" height="2"/>
<rect x="386" y="545" width="2" height="2"/>
<rect x="392" y="545" width="2" height="2"/>
<rect x="274" y="551" width="3" height="2"/>
<rect x="280" y="551" width="3" height="1"/><rect x="281" y="550" width="1" height="3"/>
<rect x="286" y="551" width="3" height="2"/><rect x="287" y="550" width="1" height="1"/>
<rect x="292" y="550" width="2" height="3"/><rect x="294" y="551" width="1" height="1"/>
<rect x="374" y="551" width="2" height="2"/>
<rect x="380" y="551" width="2" height="2"/>
<rect x="386" y="551" width="2" height="2"/>
<rect x="392" y="551" width="2" height="2"/>
<rect x="274" y="557" width="3" height="2"/>
<rect x="280" y="557" width="3" height="1"/><rect x="281" y="556" width="1" height="3"/>
<rect x="286" y="557" width="3" height="2"/><rect x="287" y="556" width="1" height="1"/>
<rect x="292" y="556" width="2" height="3"/><rect x="294" y="557" width="1" height="1"/>
<rect x="374" y="557" width="2" height="2"/>
<rect x="380" y="557" width="2" height="2"/>
<rect x="386" y="557" width="2" height="2"/>
<rect x="392" y="557" width="2" height="2"/>
<rect x="274" y="563" width="3" height="1"/><rect x="275" y="562" width="1" height="3"/>
<rect x="280" y="563" width="3" height="2"/><rect x="281" y="562" width="1" height="1"/>
<rect x="286" y="562" width="2" height="3"/><rect x="288" y="563" width="1" height="1"/>
<rect x="292" y="563" width="3" height="2"/>
<rect x="374" y="562" width="2" height="3"/><rect x="376" y="563" width="1" height="1"/>
<rect x="380" y="563" width="3" height="2"/>
<rect x="386" y="563" width="3" height="1"/><rect x="387" y="562" width="1" height="3"/>
<rect x="392" y="563" width="3" height="1"/><rect x="393" y="562" width="1" height="3"/>
<rect x="274" y="569" width="3" height="2"/><rect x="275" y="568" width="1" height="1"/>
<rect x="280" y="568" width="2" height="3"/><rect x="282" y="569" width="1" height="1"/>
<rect x="286" y="569" width="3" height="2"/>
<rect x="292" y="569" width="3" height="1"/><rect x="293" y="568" width="1" height="3"/>
<rect x="374" y="569" width="3" height="2"/>
<rect x="380" y="569" width="3" height="1"/><rect x="381" y="568" width="1" height="3"/>
<rect x="386" y="569" width="3" height="2"/><rect x="387" y="568" width="1" height="1"/>
<rect x="392" y="569" width="3" height="2"/><rect x="393" y="568" width="1" height="1"/>
<rect x="274" y="574" width="2" height="3"/><rect x="276" y="575" width="1" height="1"/>
<rect x="280" y="575" width="3" height="2"/>
<rect x="286" y="575" width="3" height="1"/><rect x="287" y="574" width="1" height="3"/>
<rect x="292" y="575" width="3" height="2"/><rect x="293" y="574" width="1" height="1"/>
<rect x="374" y="575" width="3" height="1"/><rect x="375" y="574" width="1" height="3"/>
<rect x="380" y="575" width="3" height="2"/><rect x="381" y="574" width="1" height="1"/>
<rect x="386" y="574" width="2" height="3"/><rect x="388" y="575" width="1" height="1"/>
<rect x="392" y="574" width="2" height="3"/><rect x="394" y="575" width="1" height="1"/>
<rect x="274" y="580" width="2" height="3"/><rect x="276" y="581" width="1" height="1"/>
<rect x="280" y="581" width="3" height="2"/>
<rect x="286" y="581" width="3" height="1"/><rect x="287" y="580" width="1" height="3"/>
<rect x="292" y="581" width="3" height="2"/><rect x="293" y="580" width="1" height="1"/>
<rect x="374" y="581" width="2" height="2"/>
<rect x="380" y="581" width="2" height="2"/>
<rect x="386" y="581" width="2" height="2"/>
<rect x="392" y="581" width="2" height="2"/>
<rect x="274" y="587" width="3" height="2"/>
<rect x="280" y="587" width="3" height="1"/><rect x="281" y="586" width="1" height="3"/>
<rect x="286" y="587" width="3" height="2"/><rect x="287" y="586" width="1" height="1"/>
<rect x="292" y="586" width="2" height="3"/><rect x="294" y="587" width="1" height="1"/>
<rect x="374" y="587" width="2" height="2"/>
<rect x="380" y="587" width="2" height="2"/>
<rect x="386" y="587" width="2" height="2"/>
<rect x="392" y="587" width="2" height="2"/>
<rect x="274" y="593" width="3" height="1"/><rect x="275" y="592" width="1" height="3"/>
<rect x="280" y="593" width="3" height="2"/><rect x="281" y="592" width="1" height="1"/>
<rect x="286" y="592" width="2" height="3"/><rect x="288" y="593" width="1" height="1"/>
<rect x="292" y="593" width="3" height="2"/>
<rect x="374" y="593" width="2" height="2"/>
<rect x="380" y="593" width="2" height="2"/>
<rect x="386" y="593" width="2" height="2"/>
<rect x="392" y="593" width="2" height="2"/>
<rect x="274" y="598" width="3" height="2"/><rect x="275" y="597" width="1" height="1"/>
<rect x="280" y="597" width="2" height="3"/><rect x="282" y="598" width="1" height="1"/>
<rect x="286" y="598" width="3" height="2"/>
<rect x="292" y="598" width="3" height="1"/><rect x="293" y="597" width="1" height="3"/>
<rect x="374" y="598" width="3" height="2"/>
<rect x="380" y="598" width="3" height="1"/><rect x="381" y="597" width="1" height="3"/>
<rect x="386" y="598" width="3" height="2"/><rect x="387" y="597" width="1" height="1"/>
<rect x="392" y="598" width="3" height="2"/><rect x="393" y="597" width="1" height="1"/>
<rect x="274" y="604" width="3" height="2"/><rect x="275" y="603" width="1" height="1"/>
<rect x="280" y="603" width="2" height="3"/><rect x="282" y="604" width="1" height="1"/>
<rect x="286" y="604" width="3" height="2"/>
<rect x="292" y="604" width="3" height="1"/><rect x="293" y="603" width="1" height="3"/>
<rect x="374" y="604" width="3" height="2"/>
<rect x="380" y="604" width="3" height="1"/><rect x="381" y="603" width="1" height="3"/>
<rect x="386" y="604" width="3" height="2"/><rect x="387" y="603" width="1" height="1"/>
<rect x="392" y="604" width="3" height="2"/><rect x="393" y="603" width="1" height="1"/>
<rect x="274" y="609" width="2" height="3"/><rect x="276" y="610" width="1" height="1"/>
<rect x="280" y="610" width="3" height="2"/>
<rect x="286" y="610" width="3" height="1"/><rect x="287" y="609" width="1" height="3"/>
<rect x="292" y="610" width="3" height="2"/><rect x="293" y="609" width="1" height="1"/>
<rect x="298" y="609" width="2" height="3"/><rect x="300" y="610" width="1" height="1"/>
<rect x="303" y="609" width="2" height="3"/><rect x="305" y="610" width="1" height="1"/>
<rect x="309" y="610" width="2" height="2"/>
<rect x="315" y="610" width="2" height="2"/>
<rect x="321" y="610" width="2" height="2"/>
<rect x="327" y="609" width="2" height="3"/><rect x="329" y="610" width="1" height="1"/>
<rect x="333" y="609" width="2" height="3"/><rect x="335" y="610" width="1" height="1"/>
<rect x="339" y="610" width="3" height="2"/>
<rect x="345" y="610" width="2" height="2"/>
<rect x="350" y="610" width="2" height="2"/>
<rect x="356" y="610" width="2" height="2"/>
<rect x="362" y="609" width="2" height="3"/><rect x="364" y="610" width="1" height="1"/>
<rect x="368" y="610" width="3" height="2"/>
<rect x="374" y="610" width="3" height="1"/><rect x="375" y="609" width="1" height="3"/>
<rect x="380" y="610" width="2" height="2"/>
<rect x="386" y="610" width="2" height="2"/>
<rect x="392" y="610" width="2" height="2"/>
<rect x="274" y="616" width="3" height="2"/>
<rect x="280" y="616" width="3" height="1"/><rect x="281" y="615" width="1" height="3"/>
<rect x="286" y="616" width="3" height="2"/><rect x="287" y="615" width="1" height="1"/>
<rect x="292" y="615" width="2" height="3"/><rect x="294" y="616" width="1" height="1"/>
<rect x="298" y="616" width="3" height="2"/>
<rect x="303" y="616" width="3" height="2"/>
<rect x="309" y="616" width="2" height="2"/>
<rect x="315" y="616" width="2" height="2"/>
<rect x="321" y="616" width="2" height="2"/>
<rect x="327" y="616" width="3" height="2"/>
<rect x="333" y="616" width="3" height="2"/>
<rect x="339" y="616" width="3" height="1"/><rect x="340" y="615" width="1" height="3"/>
<rect x="345" y="616" width="2" height="2"/>
<rect x="350" y="616" width="2" height="2"/>
<rect x="356" y="616" width="2" height="2"/>
<rect x="362" y="616" width="3" height="2"/>
<rect x="368" y="616" width="3" height="1"/><rect x="369" y="615" width="1" height="3"/>
<rect x="374" y="616" width="2" height="2"/>
<rect x="380" y="616" width="2" height="2"/>
<rect x="386" y="616" width="2" height="2"/>
<rect x="392" y="616" width="2" height="2"/>
<rect x="274" y="622" width="3" height="1"/><rect x="275" y="621" width="1" height="3"/>
<rect x="280" y="622" width="3" height="2"/><rect x="281" y="621" width="1" height="1"/>
<rect x="286" y="621" width="2" height="3"/><rect x="288" y="622" width="1" height="1"/>
<rect x="292" y="622" width="3" height="2"/>
<rect x="298" y="622" width="3" height="1"/><rect x="299" y="621" width="1" height="3"/>
<rect x="303" y="622" width="3" height="1"/><rect x="304" y="621" width="1" height="3"/>
<rect x="309" y="622" width="2" height="2"/>
<rect x="315" y="622" width="2" height="2"/>
<rect x="321" y="622" width="2" height="2"/>
<rect x="327" y="622" width="3" height="1"/><rect x="328" y="621" width="1" height="3"/>
<rect x="333" y="622" width="3" height="1"/><rect x="334" y="621" width="1" height="3"/>
<rect x="339" y="622" width="3" height="2"/><rect x="340" y="621" width="1" height="1"/>
<rect x="345" y="622" width="2" height="2"/>
<rect x="350" y="622" width="2" height="2"/>
<rect x="356" y="622" width="2" height="2"/>
<rect x="362" y="622" width="3" height="1"/><rect x="363" y="621" width="1" height="3"/>
<rect x="368" y="622" width="3" height="2"/><rect x="369" y="621" width="1" height="1"/>
<rect x="374" y="622" width="2" height="2"/>
<rect x="380" y="622" width="2" height="2"/>
<rect x="386" y="622" width="2" height="2"/>
<rect x="392" y="622" width="2" height="2"/>
<rect x="274" y="628" width="3" height="1"/><rect x="275" y="627" width="1" height="3"/>
<rect x="280" y="628" width="3" height="2"/><rect x="281" y="627" width="1" height="1"/>
<rect x="286" y="627" width="2" height="3"/><rect x="288" y="628" width="1" height="1"/>
<rect x="292" y="628" width="3" height="2"/>
<rect x="298" y="628" width="3" height="1"/><rect x="299" y="627" width="1" height="3"/>
<rect x="303" y="628" width="3" height="1"/><rect x="304" y="627" width="1" height="3"/>
<rect x="309" y="628" width="2" height="2"/>
<rect x="315" y="628" width="2" height="2"/>
<rect x="321" y="628" width="2" height="2"/>
<rect x="327" y="628" width="3" height="1"/><rect x="328" y="627" width="1" height="3"/>
<rect x="333" y="628" width="3" height="1"/><rect x="334" y="627" width="1" height="3"/>
<rect x="339" y="628" width="3" height="2"/><rect x="340" y="627" width="1" height="1"/>
<rect x="345" y="628" width="2" height="2"/>
<rect x="350" y="628" width="2" height="2"/>
<rect x="356" y="628" width="2" height="2"/>
<rect x="362" y="628" width="3" height="1"/><rect x="363" y="627" width="1" height="3"/>
<rect x="368" y="628" width="3" height="2"/><rect x="369" y="627" width="1" height="1"/>
<rect x="374" y="628" width="2" height="2"/>
<rect x="380" y="628" width="2" height="2"/>
<rect x="386" y="628" width="2" height="2"/>
<rect x="392" y="628" width="2" height="2"/>
</g>
<rect x="363" y="638" width="30" height="4" fill="#000"/>
<rect x="364" y="639" width="28" height="2" fill="#fff"/>
<rect x="367" y="642" width="13" height="2" fill="#000"/>
<rect x="382" y="642" width="7" height="2" fill="#000"/>
<rect x="254" y="502" width="15" height="5" fill="#000"/>
<rect x="245" y="507" width="2" height="131" fill="#000"/>
<rect x="247" y="507" width="1" height="131" fill="#fff"/>
<rect x="248" y="508" width="17" height="130" fill="#000"/>
<rect x="265" y="507" width="1" height="131" fill="#fff"/>
<rect x="266" y="508" width="2" height="130" fill="#000"/>
<rect x="268" y="507" width="1" height="131" fill="#fff"/>
<rect x="247" y="507" width="22" height="1" fill="#fff"/>
<rect x="245" y="637" width="24" height="1" fill="#000"/>
<rect x="251" y="561" width="4" height="31" fill="#fff"/>
<rect x="256" y="560" width="7" height="33" fill="#fff"/>
<text transform="translate(260.3,632.7) rotate(-90) scale(0.83,1)" x="0 14.2 30.7" y="0" font-size="17.7" fill="#fff" stroke="#000" stroke-width="0.75">AMP</text>
<rect x="316.1" y="562.1" width="33.8" height="17.8" rx="2.4" ry="2.4" fill="#fff" stroke="#000" stroke-width="2.2" shape-rendering="geometricPrecision"/>
<text transform="translate(317.26,574.8) scale(0.67,1)" x="0.00 16.40 33.52" y="0" font-size="14.4" fill="#000" stroke="#000" stroke-width="0.15" font-weight="normal">CPU</text>
<rect x="263" y="638" width="34" height="15" fill="#000"/>
<rect x="264.5" y="639.5" width="31.0" height="12.0" fill="#fff"/>
<rect x="264.5" y="637" width="31.0" height="3" fill="#fff"/>
<polygon points="275.30,652.00 275.74,655.60 276.61,661.00 277.30,667.48 278.10,667.66 278.15,670.00 279.65,670.00 279.70,667.66 280.50,667.48 281.19,661.00 282.06,655.60 282.50,652.00" fill="#000" shape-rendering="geometricPrecision"/>
<polygon points="277.60,650.40 278.00,656.50 278.35,661.00 279.45,661.00 279.80,656.50 280.20,650.40" fill="#fff" shape-rendering="geometricPrecision"/>
<text transform="translate(266.38,648.8) scale(0.67,1)" x="0.00 14.59 29.54" y="0" font-size="14.4" fill="#000" stroke="#000" stroke-width="0.15" font-weight="normal">ATX</text>
<rect x="229" y="670" width="102" height="25" fill="#000"/>
<rect x="230" y="671" width="100" height="23" fill="#fff"/>
<rect x="235" y="674" width="7" height="7" fill="#000"/>
<rect x="236" y="675" width="5" height="5" fill="#fff"/>
<rect x="235" y="684" width="7" height="7" fill="#000"/>
<rect x="236" y="685" width="5" height="5" fill="#fff"/>
<rect x="245" y="674" width="7" height="7" fill="#000"/>
<rect x="246" y="675" width="5" height="5" fill="#fff"/>
<rect x="245" y="684" width="7" height="7" fill="#000"/>
<rect x="246" y="685" width="5" height="5" fill="#fff"/>
<rect x="254" y="674" width="7" height="7" fill="#000"/>
<rect x="255" y="675" width="5" height="5" fill="#fff"/>
<rect x="254" y="684" width="7" height="7" fill="#000"/>
<rect x="255" y="685" width="5" height="5" fill="#fff"/>
<rect x="263" y="674" width="7" height="7" fill="#000"/>
<rect x="264" y="675" width="5" height="5" fill="#fff"/>
<rect x="263" y="684" width="7" height="7" fill="#000"/>
<rect x="264" y="685" width="5" height="5" fill="#fff"/>
<rect x="272" y="674" width="7" height="7" fill="#000"/>
<rect x="273" y="675" width="5" height="5" fill="#fff"/>
<rect x="272" y="684" width="7" height="7" fill="#000"/>
<rect x="273" y="685" width="5" height="5" fill="#fff"/>
<rect x="282" y="674" width="7" height="7" fill="#000"/>
<rect x="283" y="675" width="5" height="5" fill="#fff"/>
<rect x="282" y="684" width="7" height="7" fill="#000"/>
<rect x="283" y="685" width="5" height="5" fill="#fff"/>
<rect x="291" y="674" width="7" height="7" fill="#000"/>
<rect x="292" y="675" width="5" height="5" fill="#fff"/>
<rect x="291" y="684" width="7" height="7" fill="#000"/>
<rect x="292" y="685" width="5" height="5" fill="#fff"/>
<rect x="300" y="674" width="7" height="7" fill="#000"/>
<rect x="301" y="675" width="5" height="5" fill="#fff"/>
<rect x="300" y="684" width="7" height="7" fill="#000"/>
<rect x="301" y="685" width="5" height="5" fill="#fff"/>
<rect x="309" y="674" width="7" height="7" fill="#000"/>
<rect x="310" y="675" width="5" height="5" fill="#fff"/>
<rect x="309" y="684" width="7" height="7" fill="#000"/>
<rect x="310" y="685" width="5" height="5" fill="#fff"/>
<rect x="318" y="674" width="7" height="7" fill="#000"/>
<rect x="319" y="675" width="5" height="5" fill="#fff"/>
<rect x="318" y="684" width="7" height="7" fill="#000"/>
<rect x="319" y="685" width="5" height="5" fill="#fff"/>
<rect x="344" y="670" width="112" height="25" fill="#000"/>
<rect x="345" y="671" width="110" height="23" fill="#fff"/>
<rect x="345" y="678" width="110" height="1" fill="#000"/>
<rect x="348" y="673" width="3" height="1" fill="#000"/>
<rect x="346" y="674" width="7" height="2" fill="#000"/>
<rect x="348" y="676" width="3" height="2" fill="#000"/>
<rect x="346" y="680" width="7" height="3" fill="#000"/>
<rect x="357" y="673" width="3" height="1" fill="#000"/>
<rect x="355" y="674" width="7" height="2" fill="#000"/>
<rect x="357" y="676" width="3" height="2" fill="#000"/>
<rect x="355" y="680" width="7" height="3" fill="#000"/>
<rect x="367" y="673" width="3" height="1" fill="#000"/>
<rect x="365" y="674" width="7" height="2" fill="#000"/>
<rect x="367" y="676" width="3" height="2" fill="#000"/>
<rect x="365" y="680" width="7" height="3" fill="#000"/>
<rect x="376" y="673" width="3" height="1" fill="#000"/>
<rect x="374" y="674" width="7" height="2" fill="#000"/>
<rect x="376" y="676" width="3" height="2" fill="#000"/>
<rect x="374" y="680" width="7" height="3" fill="#000"/>
<rect x="385" y="673" width="3" height="1" fill="#000"/>
<rect x="383" y="674" width="7" height="2" fill="#000"/>
<rect x="385" y="676" width="3" height="2" fill="#000"/>
<rect x="383" y="680" width="7" height="3" fill="#000"/>
<rect x="394" y="673" width="3" height="1" fill="#000"/>
<rect x="392" y="674" width="7" height="2" fill="#000"/>
<rect x="394" y="676" width="3" height="2" fill="#000"/>
<rect x="392" y="680" width="7" height="3" fill="#000"/>
<rect x="403" y="673" width="3" height="1" fill="#000"/>
<rect x="401" y="674" width="7" height="2" fill="#000"/>
<rect x="403" y="676" width="3" height="2" fill="#000"/>
<rect x="401" y="680" width="7" height="3" fill="#000"/>
<rect x="412" y="673" width="3" height="1" fill="#000"/>
<rect x="410" y="674" width="7" height="2" fill="#000"/>
<rect x="412" y="676" width="3" height="2" fill="#000"/>
<rect x="410" y="680" width="7" height="3" fill="#000"/>
<rect x="422" y="673" width="3" height="1" fill="#000"/>
<rect x="420" y="674" width="7" height="2" fill="#000"/>
<rect x="422" y="676" width="3" height="2" fill="#000"/>
<rect x="420" y="680" width="7" height="3" fill="#000"/>
<rect x="431" y="673" width="3" height="1" fill="#000"/>
<rect x="429" y="674" width="7" height="2" fill="#000"/>
<rect x="431" y="676" width="3" height="2" fill="#000"/>
<rect x="429" y="680" width="7" height="3" fill="#000"/>
<rect x="440" y="673" width="3" height="1" fill="#000"/>
<rect x="438" y="674" width="7" height="2" fill="#000"/>
<rect x="440" y="676" width="3" height="2" fill="#000"/>
<rect x="438" y="680" width="7" height="3" fill="#000"/>
<rect x="449" y="673" width="3" height="1" fill="#000"/>
<rect x="447" y="674" width="7" height="2" fill="#000"/>
<rect x="449" y="676" width="3" height="2" fill="#000"/>
<rect x="447" y="680" width="7" height="3" fill="#000"/>
<rect x="349" y="684" width="7" height="7" fill="#000"/>
<rect x="350" y="685" width="5" height="5" fill="#fff"/>
<rect x="359" y="684" width="8" height="7" fill="#000"/>
<rect x="360" y="685" width="6" height="5" fill="#fff"/>
<rect x="368" y="684" width="7" height="7" fill="#000"/>
<rect x="369" y="685" width="5" height="5" fill="#fff"/>
<rect x="377" y="684" width="8" height="7" fill="#000"/>
<rect x="378" y="685" width="6" height="5" fill="#fff"/>
<rect x="387" y="684" width="7" height="7" fill="#000"/>
<rect x="388" y="685" width="5" height="5" fill="#fff"/>
<rect x="396" y="684" width="8" height="7" fill="#000"/>
<rect x="397" y="685" width="6" height="5" fill="#fff"/>
<rect x="406" y="684" width="7" height="7" fill="#000"/>
<rect x="407" y="685" width="5" height="5" fill="#fff"/>
<rect x="415" y="684" width="8" height="7" fill="#000"/>
<rect x="416" y="685" width="6" height="5" fill="#fff"/>
<rect x="424" y="684" width="7" height="7" fill="#000"/>
<rect x="425" y="685" width="5" height="5" fill="#fff"/>
<rect x="434" y="684" width="8" height="7" fill="#000"/>
<rect x="435" y="685" width="6" height="5" fill="#fff"/>
<rect x="443" y="684" width="7" height="7" fill="#000"/>
<rect x="444" y="685" width="5" height="5" fill="#fff"/>
<rect x="452" y="684" width="1" height="7" fill="#000"/>
<rect x="453" y="684" width="3" height="1" fill="#000"/>
<rect x="453" y="690" width="3" height="1" fill="#000"/>
<rect x="455" y="685" width="1" height="5" fill="#fff"/>
<rect x="454" y="687" width="1" height="1" fill="#000"/>
<rect x="347" y="684" width="1" height="7" fill="#000"/>
<rect x="344" y="684" width="3" height="1" fill="#000"/>
<rect x="344" y="690" width="3" height="1" fill="#000"/>
<rect x="344" y="685" width="1" height="5" fill="#fff"/>
<rect x="345" y="687" width="1" height="1" fill="#000"/>
<rect x="407" y="616" width="19" height="13" fill="#000"/>
<rect x="408" y="617" width="17" height="1" fill="#fff"/>
<rect x="408" y="617" width="1" height="11" fill="#fff"/>
<rect x="413" y="617" width="1" height="11" fill="#fff"/>
<rect x="419" y="617" width="1" height="11" fill="#fff"/>
<rect x="408" y="622" width="17" height="1" fill="#fff"/>
<rect x="410" y="624" width="2" height="3" fill="#fff"/>
<rect x="404.1" y="583.1" width="31.3" height="16.099999999999955" rx="2.4" ry="2.4" fill="#fff" stroke="#000" stroke-width="2.2" shape-rendering="geometricPrecision"/>
<polygon points="415.80,599.30 416.20,602.64 417.00,607.65 417.50,613.66 418.30,613.83 418.35,616.00 419.85,616.00 419.90,613.83 420.70,613.66 421.20,607.65 422.00,602.64 422.40,599.30" fill="#000" shape-rendering="geometricPrecision"/>
<polygon points="417.80,597.70 418.20,603.47 418.55,607.65 419.65,607.65 420.00,603.47 420.40,597.70" fill="#fff" shape-rendering="geometricPrecision"/>
<text transform="translate(406.37,595.8) scale(0.67,1)" x="0.00 13.39 28.08" y="0" font-size="14.4" fill="#000" stroke="#000" stroke-width="0.15" font-weight="normal">JB1</text>
<text transform="translate(405.40,614.9) scale(0.9,1)" x="0.00" y="0" font-size="12.4" fill="#000" stroke="#000" stroke-width="0.15" font-weight="normal">2</text>
<rect x="435" y="638" width="25" height="14" fill="#000"/>
<rect x="436" y="639" width="23" height="12" fill="#fff"/>
<rect x="436" y="640" width="5" height="4" fill="#000"/>
<rect x="442" y="640" width="5" height="4" fill="#000"/>
<rect x="448" y="640" width="4" height="4" fill="#000"/>
<rect x="454" y="640" width="5" height="4" fill="#000"/>
<rect x="436" y="646" width="5" height="4" fill="#000"/>
<rect x="442" y="646" width="5" height="4" fill="#000"/>
<rect x="448" y="646" width="4" height="4" fill="#000"/>
<rect x="454" y="646" width="5" height="4" fill="#000"/>
<rect x="455" y="641" width="3" height="2" fill="#fff"/>
<rect x="475.1" y="637.1" width="32.8" height="16.3" rx="2.4" ry="2.4" fill="#fff" stroke="#000" stroke-width="2.2" shape-rendering="geometricPrecision"/>
<polygon points="475.00,641.70 471.96,642.10 467.40,642.90 461.93,643.40 461.78,644.20 459.80,644.25 459.80,645.75 461.78,645.80 461.93,646.60 467.40,647.10 471.96,647.90 475.00,648.30" fill="#000" shape-rendering="geometricPrecision"/>
<polygon points="476.60,643.70 471.20,644.10 467.40,644.45 467.40,645.55 471.20,645.90 476.60,646.30" fill="#fff" shape-rendering="geometricPrecision"/>
<text transform="translate(477.17,648.9) scale(0.67,1)" x="0.00 13.45 28.68" y="0" font-size="14.4" fill="#000" stroke="#000" stroke-width="0.15" font-weight="normal">JV1</text>
<text transform="translate(451.40,661.9) scale(0.9,1)" x="0.00" y="0" font-size="12.4" fill="#000" stroke="#000" stroke-width="0.15" font-weight="normal">2</text>
<rect x="571" y="464" width="7" height="122" fill="#fff"/>
<rect x="529" y="482" width="28" height="91" fill="#000"/>
<rect x="538" y="475" width="19" height="7" fill="#000"/>
<rect x="549" y="473" width="8" height="2" fill="#000"/>
<rect x="553" y="471" width="7" height="1" fill="#000"/>
<rect x="553" y="471" width="4" height="11" fill="#000"/>
<rect x="550" y="474" width="3" height="4" fill="#fff"/>
<rect x="530" y="573" width="27" height="1" fill="#000"/>
<rect x="557" y="472" width="2" height="110" fill="#fff"/>
<rect x="559" y="471" width="1" height="112" fill="#000"/>
<rect x="560" y="482" width="12" height="91" fill="#fff"/>
<rect x="560" y="473" width="8" height="1" fill="#000"/>
<rect x="560" y="474" width="7" height="4" fill="#fff"/>
<rect x="560" y="478" width="13" height="4" fill="#000"/>
<rect x="566" y="464" width="9" height="3" fill="#000"/>
<rect x="566" y="467" width="7" height="15" fill="#000"/>
<rect x="564" y="467" width="3" height="7" fill="#000"/>
<rect x="565" y="468" width="1" height="5" fill="#fff"/>
<rect x="573" y="467" width="10" height="7" fill="#000"/>
<rect x="574" y="468" width="8" height="5" fill="#fff"/>
<rect x="573" y="473" width="2" height="4" fill="#000"/>
<rect x="572" y="476" width="1" height="42" fill="#000"/>
<rect x="572" y="517" width="2" height="56" fill="#000"/>
<rect x="572" y="476" width="17" height="42" fill="#000"/>
<rect x="573" y="477" width="15" height="40" fill="#fff"/>
<rect x="573" y="521" width="10" height="7" fill="#000"/>
<rect x="574" y="522" width="8" height="5" fill="#fff"/>
<rect x="573" y="521" width="10" height="2" fill="#000"/>
<path d="M573.5,530.5 H587.5 Q589.5,530.5 589.5,532.5 V569.5 Q589.5,572.5 586.5,572.5 H573.5 Z" fill="#fff" stroke="#000" stroke-width="1" shape-rendering="geometricPrecision"/>
<rect x="572" y="518" width="2" height="55" fill="#000"/>
<rect x="554" y="572" width="3" height="11" fill="#000"/>
<rect x="549" y="575" width="6" height="7" fill="#000"/>
<rect x="550" y="576" width="4" height="5" fill="#fff"/>
<rect x="559" y="574" width="9" height="2" fill="#000"/>
<rect x="559" y="581" width="9" height="1" fill="#000"/>
<rect x="567" y="571" width="8" height="15" fill="#000"/>
<rect x="574" y="576" width="9" height="6" fill="#000"/>
<rect x="575" y="577" width="7" height="4" fill="#fff"/>
<rect x="559" y="572" width="31" height="1" fill="#000"/>
<rect x="537" y="518" width="31" height="18" fill="#000"/>
<rect x="537" y="519" width="29" height="15" fill="#fff"/>
<text transform="translate(539.46,531.8) scale(0.67,1)" x="0.00 15.31 29.19" y="0" font-size="14.4" fill="#000" stroke="#000" stroke-width="0.15" font-weight="normal">CN7</text>
<rect x="605.1" y="490.1" width="33.8" height="16.8" rx="2.4" ry="2.4" fill="#fff" stroke="#000" stroke-width="2.2" shape-rendering="geometricPrecision"/>
<polygon points="604.88,495.10 601.65,495.62 596.82,496.60 591.01,497.32 590.88,498.12 588.77,498.25 588.83,499.75 590.94,499.72 591.13,500.51 596.98,500.80 601.87,501.42 605.12,501.70" fill="#000" shape-rendering="geometricPrecision"/>
<polygon points="606.55,497.04 600.92,497.65 596.88,498.15 596.92,499.25 600.98,499.45 606.65,499.64" fill="#fff" shape-rendering="geometricPrecision"/>
<text transform="translate(609.46,502.8) scale(0.67,1)" x="0.00 15.16 29.06" y="0" font-size="14.4" fill="#000" stroke="#000" stroke-width="0.15" font-weight="normal">CN5</text>
<rect x="605.1" y="543.1" width="33.8" height="16.3" rx="2.4" ry="2.4" fill="#fff" stroke="#000" stroke-width="2.2" shape-rendering="geometricPrecision"/>
<polygon points="605.00,548.00 601.92,548.40 597.30,549.20 591.76,549.70 591.60,550.50 589.60,550.55 589.60,552.05 591.60,552.10 591.76,552.90 597.30,553.40 601.92,554.20 605.00,554.60" fill="#000" shape-rendering="geometricPrecision"/>
<polygon points="606.60,550.00 601.15,550.40 597.30,550.75 597.30,551.85 601.15,552.20 606.60,552.60" fill="#fff" shape-rendering="geometricPrecision"/>
<text transform="translate(608.36,555.6) scale(0.67,1)" x="0.00 15.91 29.00" y="0" font-size="14.4" fill="#000" stroke="#000" stroke-width="0.15" font-weight="normal">CN6</text>
<rect x="525" y="606" width="27" height="31" fill="#000"/>
<rect x="526" y="607" width="25" height="29" fill="#fff"/>
<path d="M553.5,604.5 H573 V638.5 H553.5 Q551.5,638.5 551.5,636.5 V606.5 Q551.5,604.5 553.5,604.5 Z" fill="#fff" stroke="#000" stroke-width="1" shape-rendering="geometricPrecision"/>
<rect x="567" y="605" width="1" height="33" fill="#000"/>
<rect x="529.2" y="614.2" width="30.6" height="16.1" rx="3.5" ry="3.5" fill="#fff" stroke="#000" stroke-width="2.4" shape-rendering="geometricPrecision"/>
<text transform="translate(531.36,625.9) scale(0.67,1)" x="0.00 15.76 29.79" y="0" font-size="14.4" fill="#000" stroke="#000" stroke-width="0.15" font-weight="normal">CN8</text>
<rect x="590.1" y="614.1" width="32.8" height="16.3" rx="2.4" ry="2.4" fill="#fff" stroke="#000" stroke-width="2.2" shape-rendering="geometricPrecision"/>
<polygon points="590.09,618.70 587.00,619.02 582.35,619.70 576.80,620.06 576.62,620.85 574.62,620.85 574.58,622.35 576.58,622.45 576.71,623.26 582.25,623.90 586.84,624.82 589.91,625.30" fill="#000" shape-rendering="geometricPrecision"/>
<polygon points="591.63,620.74 586.17,621.00 582.31,621.25 582.29,622.35 586.13,622.80 591.57,623.34" fill="#fff" shape-rendering="geometricPrecision"/>
<text transform="translate(593.66,626) scale(0.67,1)" x="0.00 15.16 29.05" y="0" font-size="14.4" fill="#000" stroke="#000" stroke-width="0.15" font-weight="normal">CN9</text>
<rect x="526" y="656" width="33" height="11" fill="#000"/>
<rect x="527" y="657" width="31" height="9" fill="#fff"/>
<rect x="526" y="684" width="33" height="12" fill="#000"/>
<rect x="527" y="685" width="31" height="10" fill="#fff"/>
<rect x="558" y="656" width="17" height="40" fill="#000"/>
<rect x="567" y="654" width="8" height="46" fill="#000"/>
<rect x="570" y="651" width="5" height="52" fill="#000"/>
<rect x="572" y="648" width="3" height="57" fill="#000"/>
<rect x="524" y="667" width="42" height="18" fill="#000"/>
<rect x="527" y="668" width="38" height="16" fill="#fff"/>
<text transform="translate(529.46,679.6) scale(0.67,1)" x="0.00 15.31 29.60 39.79" y="0" font-size="14.4" fill="#000" stroke="#000" stroke-width="0.15" font-weight="normal">CN10</text>
</svg>
</body></html>
